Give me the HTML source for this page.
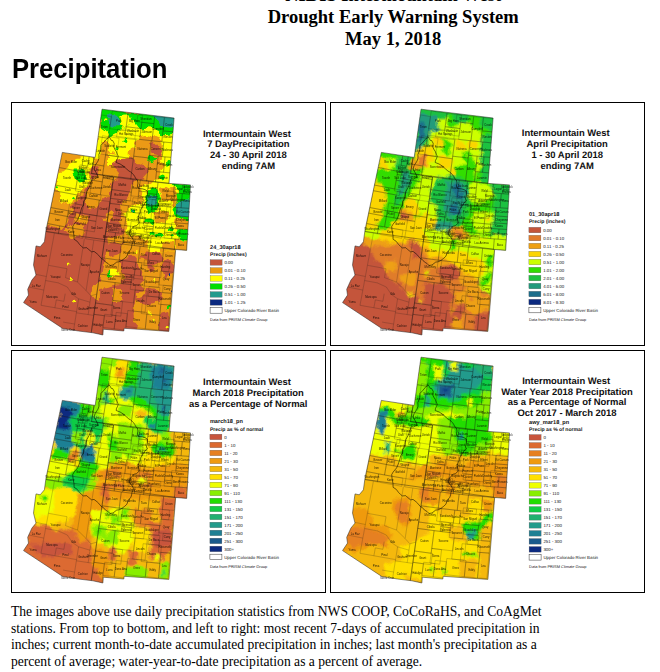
<!DOCTYPE html>
<html><head><meta charset="utf-8"><title>Precipitation</title>
<style>
html,body{margin:0;padding:0;background:#fff;}
body{width:660px;height:672px;position:relative;overflow:hidden;font-family:"Liberation Serif",serif;color:#000;}
.hd{position:absolute;left:0;width:660px;text-align:center;font:bold 18.55px "Liberation Serif",serif;white-space:nowrap;line-height:21.9px;}
.hd span{display:block;position:absolute;left:193.2px;width:400px;text-align:center;}
h1{position:absolute;left:11.8px;top:52.2px;margin:0;font:bold 28.5px "Liberation Sans",sans-serif;line-height:32px;transform-origin:0 0;transform:scaleX(0.9);white-space:nowrap;letter-spacing:0px;}
.cap{position:absolute;left:10.9px;top:604.4px;font:13.61px "Liberation Serif",serif;line-height:16.53px;white-space:nowrap;}
.map{position:absolute;overflow:visible;}
.m polygon{stroke-width:2.4px;stroke-linejoin:round}
.tt{font:bold 9.45px "Liberation Sans",sans-serif;fill:#111;}
.lt{font:bold 5.1px "Liberation Sans",sans-serif;fill:#111;}
.map text{text-rendering:geometricPrecision}
.ll{font:4.4px "Liberation Sans",sans-serif;fill:#111;}
.ld{font:3.95px "Liberation Sans",sans-serif;fill:#111;}
.cl{font:2.8px "Liberation Sans",sans-serif;fill:#000;opacity:0.85}
</style></head><body>
<div class="hd"><span style="top:-15.6px">NIDIS Intermountain West</span><span style="top:6.3px">Drought Early Warning System</span><span style="top:28.2px">May 1, 2018</span></div>
<h1>Precipitation</h1>
<svg width="0" height="0" style="position:absolute"><defs><g id="L"><path d="M98.1 26.1 L114.1 28.5 L116.5 10.8 L100.8 8.5ZM86.0 34.1 L96.7 35.8 L100.0 14.1 L89.5 12.4ZM114.7 24.2 L129.5 26.1 L131.1 12.7 L116.5 10.8ZM125.5 19.2 L142.4 21.2 L143.2 14.1 L126.4 12.1ZM140.5 38.3 L150.3 39.3 L152.9 15.1 L143.2 14.1ZM151.5 28.4 L162.4 29.4 L163.7 16.1 L152.9 15.1ZM150.3 39.3 L161.4 40.4 L162.4 29.4 L151.5 28.4ZM128.1 36.9 L140.5 38.3 L142.4 21.2 L130.3 19.8ZM113.6 31.7 L128.5 33.7 L129.5 26.1 L114.7 24.2ZM105.0 34.6 L123.2 37.1 L124.3 29.0 L106.2 26.6ZM94.1 52.4 L121.9 56.3 L124.4 36.4 L97.2 32.6ZM88.2 51.4 L105.0 54.0 L107.6 35.8 L91.0 33.2ZM81.5 61.7 L92.4 63.5 L96.7 35.8 L86.0 34.1ZM80.0 71.0 L91.0 72.8 L92.4 63.5 L81.5 61.7ZM91.0 72.8 L119.2 76.8 L121.9 56.3 L94.1 52.4ZM119.2 76.8 L135.1 78.7 L137.7 55.5 L122.2 53.7ZM122.2 53.7 L137.7 55.5 L139.7 38.2 L124.4 36.4ZM138.1 52.8 L150.8 54.1 L152.3 39.5 L139.7 38.2ZM150.8 54.1 L160.0 54.9 L161.4 40.4 L152.3 39.5ZM135.1 78.7 L143.9 79.6 L146.6 53.7 L138.1 52.8ZM145.0 69.1 L152.0 69.8 L153.5 54.4 L146.6 53.7ZM152.0 69.8 L158.6 70.4 L160.0 54.9 L153.5 54.4ZM143.9 79.6 L157.6 80.9 L158.6 70.4 L145.0 69.1ZM47.0 64.9 L69.5 69.2 L72.3 53.1 L50.1 48.9ZM70.6 62.8 L76.1 63.7 L77.7 54.1 L72.3 53.1ZM75.5 67.0 L80.5 67.8 L82.6 54.9 L77.7 54.1ZM67.7 66.4 L74.3 67.6 L75.0 63.6 L68.4 62.4ZM70.7 71.9 L75.7 72.8 L76.5 68.0 L71.6 67.1ZM66.7 72.0 L71.1 72.8 L72.1 67.2 L67.7 66.4ZM72.8 76.4 L90.8 79.4 L91.8 72.9 L73.9 70.0ZM91.4 75.4 L101.7 76.9 L102.1 74.5 L91.8 72.9ZM43.6 82.5 L64.2 86.5 L67.3 68.8 L47.0 64.9ZM65.7 77.7 L72.4 78.8 L73.4 73.2 L66.7 72.0ZM71.7 82.9 L79.5 84.2 L80.6 77.7 L72.8 76.4ZM78.5 90.6 L88.8 92.3 L90.8 79.4 L80.6 77.7ZM88.8 92.3 L99.3 93.9 L101.7 76.9 L91.4 75.4ZM63.9 88.4 L75.1 90.4 L76.8 79.6 L65.7 77.7ZM42.5 88.1 L68.8 93.1 L69.8 87.5 L43.6 82.5ZM74.3 95.4 L88.9 97.8 L89.7 92.4 L75.1 90.1ZM64.5 101.5 L72.4 102.9 L74.5 90.3 L66.7 88.9ZM39.2 105.0 L62.6 109.4 L65.5 92.5 L42.5 88.1ZM70.5 110.8 L85.4 113.3 L87.8 97.6 L73.1 95.2ZM85.4 113.3 L96.3 114.9 L98.5 99.2 L87.8 97.6ZM56.9 108.4 L70.5 110.8 L71.9 102.8 L58.3 100.4ZM38.2 110.6 L55.9 114.0 L56.9 108.4 L39.2 105.0ZM55.9 114.0 L63.3 115.4 L64.3 109.7 L56.9 108.4ZM63.3 115.4 L84.5 118.9 L85.4 113.3 L64.3 109.7ZM36.1 121.0 L54.0 124.5 L55.9 114.0 L38.2 110.6ZM54.0 124.5 L82.9 129.4 L84.5 118.9 L55.9 114.0ZM34.6 129.0 L46.8 131.4 L48.2 123.4 L36.1 121.0ZM46.8 131.4 L71.2 135.8 L72.5 127.7 L48.2 123.4ZM74.1 136.3 L92.8 139.1 L96.3 114.9 L78.0 112.1ZM100.3 87.1 L119.9 89.7 L121.5 77.1 L102.1 74.5ZM119.4 93.3 L126.7 94.2 L128.7 78.0 L121.5 77.1ZM127.4 88.5 L135.8 89.4 L137.0 78.9 L128.7 78.0ZM135.7 90.9 L145.2 91.9 L146.5 79.9 L137.0 78.9ZM144.8 96.1 L161.5 97.6 L162.9 81.4 L146.5 79.9ZM162.1 90.5 L172.5 91.2 L173.2 82.1 L162.9 81.4ZM172.8 87.0 L179.5 87.5 L179.9 82.6 L173.2 82.1ZM172.5 91.2 L179.2 91.7 L179.5 87.5 L172.8 87.0ZM154.9 97.1 L162.6 97.7 L163.4 89.2 L155.7 88.6ZM162.0 104.7 L169.6 105.3 L170.8 91.1 L163.3 90.5ZM169.6 105.3 L178.2 105.9 L179.2 91.7 L170.8 91.1ZM99.0 95.8 L118.8 98.5 L119.9 89.7 L100.3 87.1ZM98.3 100.8 L121.5 103.9 L122.2 98.9 L99.0 95.8ZM126.2 99.0 L134.6 100.0 L135.8 89.4 L127.4 88.5ZM120.4 103.8 L130.6 105.0 L131.6 96.4 L121.5 95.2ZM137.3 96.7 L144.6 97.4 L145.2 91.9 L137.9 91.1ZM144.3 100.3 L159.6 101.7 L160.0 97.5 L144.8 96.1ZM144.0 103.1 L159.4 104.5 L159.6 101.7 L144.3 100.3ZM139.3 109.8 L143.3 110.2 L144.6 97.4 L140.7 97.0ZM130.6 105.0 L135.2 105.5 L135.8 100.1 L131.2 99.6ZM96.7 112.1 L115.6 114.7 L117.0 103.3 L98.3 100.8ZM116.2 109.3 L127.7 110.7 L128.4 104.7 L117.0 103.3ZM129.4 115.8 L139.4 116.9 L140.9 102.8 L131.0 101.7ZM140.5 109.9 L147.8 110.7 L148.5 103.5 L141.2 102.8ZM147.3 114.9 L158.4 115.9 L159.4 104.5 L148.5 103.5ZM153.8 121.2 L164.2 122.1 L165.6 105.0 L155.4 104.1ZM164.9 113.4 L177.5 114.3 L178.2 105.9 L165.6 105.0ZM164.3 120.4 L177.0 121.3 L177.5 114.3 L164.9 113.4ZM142.0 120.1 L153.8 121.2 L154.7 111.3 L143.1 110.2ZM104.3 113.2 L114.4 114.5 L115.1 109.2 L105.1 107.9ZM95.5 120.5 L113.3 123.0 L114.4 114.5 L96.7 112.1ZM113.3 123.0 L127.8 124.7 L129.4 110.9 L115.1 109.2ZM126.5 120.4 L132.3 121.1 L133.5 110.5 L127.7 109.9ZM132.0 123.2 L141.9 124.2 L142.6 117.2 L132.8 116.2ZM141.2 130.2 L152.9 131.3 L153.8 121.2 L142.3 120.1ZM153.0 129.7 L159.4 130.2 L160.2 121.7 L153.8 121.2ZM159.8 125.8 L176.6 127.0 L177.0 121.3 L160.3 120.1ZM152.5 135.5 L160.1 136.2 L160.6 130.3 L153.0 129.7ZM160.1 136.2 L167.6 136.7 L168.5 126.5 L161.0 125.9ZM167.6 136.7 L175.8 137.3 L176.6 127.0 L168.5 126.5ZM94.9 124.6 L109.9 126.7 L110.4 122.6 L95.5 120.5ZM94.3 128.8 L107.0 130.6 L107.6 126.3 L94.9 124.6ZM92.8 139.1 L102.7 140.5 L104.1 130.2 L94.3 128.8ZM102.7 140.5 L111.2 141.6 L112.5 131.3 L104.1 130.2ZM111.2 135.0 L117.6 135.8 L119.1 123.7 L112.8 122.9ZM111.2 141.6 L122.9 143.0 L123.7 136.6 L112.0 135.2ZM116.4 135.7 L121.1 136.3 L122.1 128.2 L117.4 127.6ZM118.3 130.2 L134.6 132.0 L135.8 120.6 L119.7 118.8ZM121.1 136.3 L128.8 137.1 L129.5 131.5 L121.8 130.6ZM122.7 143.0 L132.1 144.1 L132.8 137.6 L123.4 136.5ZM128.7 137.9 L135.6 138.7 L136.3 132.2 L129.5 131.5ZM132.1 144.1 L138.5 144.7 L139.6 135.0 L133.1 134.3ZM132.5 129.3 L141.2 130.2 L141.9 124.2 L133.2 123.3ZM135.4 135.4 L148.8 136.7 L149.4 131.0 L136.0 129.7ZM138.5 144.7 L162.9 146.9 L163.8 136.4 L139.6 134.3ZM162.9 146.9 L175.1 147.7 L175.8 137.3 L163.8 136.4ZM90.5 155.3 L107.7 157.7 L109.8 141.5 L92.8 139.1ZM88.2 171.5 L109.2 174.3 L111.3 158.1 L90.5 155.3ZM87.2 177.9 L112.0 181.2 L112.8 174.7 L88.2 171.5ZM84.0 200.5 L100.6 202.8 L103.6 180.2 L87.2 177.9ZM82.4 211.8 L100.4 214.2 L101.9 202.9 L84.0 200.5ZM79.7 230.6 L90.4 232.1 L92.9 213.3 L82.4 211.8ZM91.4 224.9 L102.7 226.3 L104.3 213.1 L93.2 211.7ZM102.7 226.3 L114.0 227.7 L115.9 211.2 L104.7 209.9ZM114.4 224.1 L133.8 226.2 L135.5 210.0 L116.3 208.0ZM133.8 226.2 L147.0 227.4 L148.3 212.8 L135.3 211.6ZM147.0 227.4 L156.4 228.1 L158.6 202.6 L149.3 201.9ZM129.7 211.0 L148.3 212.8 L150.0 194.9 L131.6 193.2ZM146.9 201.7 L158.6 202.6 L159.6 190.8 L148.0 189.9ZM151.0 190.1 L159.6 190.8 L160.2 183.5 L151.7 182.8ZM136.5 193.7 L147.5 194.7 L148.4 185.0 L137.5 184.0ZM147.4 182.4 L160.3 183.5 L161.5 169.7 L148.8 168.6ZM132.6 183.5 L147.2 184.9 L148.1 175.1 L133.7 173.8ZM128.9 173.3 L149.3 175.2 L150.4 164.4 L130.1 162.4ZM150.0 168.7 L157.2 169.3 L158.0 159.6 L150.9 159.0ZM150.9 159.0 L162.8 159.9 L163.9 146.9 L152.1 146.0ZM136.6 157.7 L150.9 159.0 L152.1 146.0 L138.0 144.7ZM132.4 162.7 L145.6 163.9 L146.1 158.6 L133.0 157.3ZM126.7 159.9 L136.2 160.9 L138.0 144.7 L128.6 143.7ZM107.7 157.7 L126.7 159.9 L128.6 143.7 L109.8 141.5ZM106.0 170.6 L122.8 172.6 L124.3 159.6 L107.7 157.7ZM122.8 172.6 L128.9 173.3 L130.3 160.3 L124.3 159.6ZM110.2 176.1 L122.3 177.5 L122.8 172.6 L110.8 171.2ZM109.6 180.9 L119.3 182.1 L119.9 177.2 L110.2 176.1ZM118.7 186.9 L132.1 188.4 L133.3 177.0 L120.1 175.6ZM101.3 197.9 L122.1 200.4 L124.2 182.6 L103.6 180.2ZM121.2 208.5 L133.6 209.8 L135.8 188.7 L123.6 187.5ZM99.4 212.5 L109.3 213.7 L111.1 199.2 L101.3 197.9ZM42.9 130.7 L29.5 202.8M37.0 162.8 L55.5 166.2 L54.0 175.1 L66.0 179.6M72.9 136.1 L66.0 179.6 L74.1 187.5 L79.4 193.3M82.3 137.6 L74.7 187.6M22.0 171.4 L34.9 174.0M15.7 184.2 L32.4 187.6M34.1 178.0 L46.8 180.4 L55.8 184.5 L60.9 192.0 L67.1 196.3 L78.5 199.7M29.5 202.8 L65.1 209.1M43.4 205.4 L44.8 197.4 L52.4 198.8 L53.7 191.2M62.1 227.9 L67.1 196.3M64.9 210.3 L82.2 212.9M76.7 212.1 L79.4 193.3 L85.3 191.6M51.6 219.6 L63.1 221.5" fill="none" stroke="#1a1a1a" stroke-width="0.35" stroke-opacity="0.6"/><path d="M82.6 54.9 L80.0 71.0 L157.6 80.9M102.1 74.5 L79.7 230.6M34.6 129.0 L163.9 146.9" fill="none" stroke="#111" stroke-width="0.5" stroke-opacity="0.8"/><path d="M62.6 136.8 L62.5 133.2 L61.6 128.5 L61.2 124.1 L62.6 121.6 L66.1 117.4 L67.7 113.7 L69.1 109.5 L70.2 105.3 L71.9 102.8 L72.1 98.9 L74.5 95.8 L74.9 91.7 L75.3 89.1 L77.3 85.5 L78.7 82.4 L78.9 80.3 L79.6 79.2 L80.8 76.1 L82.9 76.6 L85.6 75.0 L86.6 75.4 L85.6 72.0 L84.4 69.7 L82.4 66.5 L83.8 62.7 L86.5 58.6 L87.5 55.7 L87.4 51.9 L89.3 47.4 L89.5 42.9 L92.5 39.7 L94.6 37.2 L97.4 34.3 L98.7 35.8 L99.8 37.9 L101.2 38.1 L102.7 40.9 L102.3 44.5 L103.3 46.7 L104.8 49.0 L106.0 52.1 L106.7 53.7 L106.1 55.9 L105.0 57.8 L104.7 60.0 L108.6 61.5 L112.2 63.8 L115.0 66.4 L117.4 68.5 L119.1 69.4 L122.1 72.2 L123.3 74.1 L124.3 76.2 L125.9 77.6 L126.5 80.5 L125.9 83.7 L127.1 86.0 L130.7 86.3 L133.5 87.1 L135.9 88.6 L136.1 92.9 L135.0 96.2 L136.0 98.5 L133.6 100.1 L132.1 103.4 L130.7 104.5 L129.0 107.6 L128.9 109.9 L127.5 112.3 L126.7 115.2 L127.4 118.5 L127.7 120.6 L125.0 123.1 L122.8 123.7 L120.0 126.3 L118.8 127.8 L118.2 130.0 L118.0 132.6 L119.0 133.3 L121.2 136.2 L122.1 138.0 L121.3 139.9 L120.5 141.9 L120.1 144.4 L119.4 146.7 L116.8 149.7 L115.4 153.7 L113.2 155.8 L109.6 158.5 L107.5 159.3 L105.2 159.6 L101.5 162.5 L98.5 163.0 L96.7 161.1 L93.9 159.5 L92.0 157.2 L89.7 155.9 L87.2 152.8 L85.6 151.3 L82.5 148.9 L80.2 149.4 L76.7 146.6 L75.3 145.2 L71.8 145.4 L69.9 143.8 L68.1 142.0 L65.7 138.8 L62.6 136.8Z" fill="none" stroke="#000" stroke-width="0.6" stroke-opacity="0.9" stroke-linejoin="round"/></g><g id="LB"><g class="cl"><text x="107.4" y="19.5" text-anchor="middle">Park</text><text x="93.0" y="25.1" text-anchor="middle">Teton</text><text x="122.9" y="19.5" text-anchor="middle">Big Horn</text><text x="134.4" y="17.7" text-anchor="middle">Sheridan</text><text x="146.7" y="27.7" text-anchor="middle">Campbell</text><text x="157.6" y="23.3" text-anchor="middle">Crook</text><text x="156.4" y="35.4" text-anchor="middle">Weston</text><text x="135.3" y="30.1" text-anchor="middle">Johnson</text><text x="121.6" y="29.9" text-anchor="middle">Washakie</text><text x="114.7" y="32.9" text-anchor="middle">Hot Springs</text><text x="109.4" y="45.5" text-anchor="middle">Fremont</text><text x="97.9" y="44.6" text-anchor="middle">Sublette</text><text x="89.1" y="49.8" text-anchor="middle">Lincoln</text><text x="86.2" y="68.3" text-anchor="middle">Uinta</text><text x="106.5" y="65.7" text-anchor="middle">Sweetwater</text><text x="128.6" y="67.2" text-anchor="middle">Carbon</text><text x="131.0" y="47.0" text-anchor="middle">Natrona</text><text x="145.2" y="47.2" text-anchor="middle">Converse</text><text x="156.1" y="48.2" text-anchor="middle">Niobrara</text><text x="140.9" y="67.2" text-anchor="middle">Albany</text><text x="149.3" y="62.7" text-anchor="middle">Platte</text><text x="156.0" y="63.4" text-anchor="middle">Goshen</text><text x="151.3" y="76.0" text-anchor="middle">Laramie</text><text x="59.7" y="60.1" text-anchor="middle">Box Elder</text><text x="74.2" y="59.4" text-anchor="middle">Cache</text><text x="79.1" y="62.0" text-anchor="middle">Rich</text><text x="71.4" y="66.0" text-anchor="middle">Weber</text><text x="73.6" y="70.9" text-anchor="middle">Morgan</text><text x="69.4" y="70.6" text-anchor="middle">Davis</text><text x="82.3" y="75.7" text-anchor="middle">Summit</text><text x="96.7" y="75.9" text-anchor="middle">Daggett</text><text x="55.5" y="76.7" text-anchor="middle">Tooele</text><text x="69.6" y="76.4" text-anchor="middle">Salt Lake</text><text x="76.2" y="81.3" text-anchor="middle">Wasatch</text><text x="84.7" y="86.0" text-anchor="middle">Duchesne</text><text x="95.3" y="85.6" text-anchor="middle">Uintah</text><text x="70.4" y="85.0" text-anchor="middle">Utah</text><text x="56.2" y="88.9" text-anchor="middle">Juab</text><text x="82.0" y="94.9" text-anchor="middle">Carbon</text><text x="69.5" y="96.9" text-anchor="middle">Sanpete</text><text x="52.4" y="99.8" text-anchor="middle">Millard</text><text x="79.2" y="105.2" text-anchor="middle">Emery</text><text x="92.0" y="107.2" text-anchor="middle">Grand</text><text x="64.4" y="106.6" text-anchor="middle">Sevier</text><text x="47.5" y="110.5" text-anchor="middle">Beaver</text><text x="60.1" y="112.9" text-anchor="middle">Piute</text><text x="74.4" y="115.4" text-anchor="middle">Wayne</text><text x="46.0" y="118.6" text-anchor="middle">Iron</text><text x="69.3" y="122.8" text-anchor="middle">Garfield</text><text x="41.4" y="127.2" text-anchor="middle">Washington</text><text x="59.7" y="130.7" text-anchor="middle">Kane</text><text x="85.3" y="126.6" text-anchor="middle">San Juan</text><text x="110.9" y="83.1" text-anchor="middle">Moffat</text><text x="124.1" y="86.6" text-anchor="middle">Routt</text><text x="132.2" y="84.7" text-anchor="middle">Jackson</text><text x="141.1" y="86.4" text-anchor="middle">Larimer</text><text x="153.9" y="89.8" text-anchor="middle">Weld</text><text x="167.7" y="87.3" text-anchor="middle">Logan</text><text x="176.4" y="85.8" text-anchor="middle">Sedgwick</text><text x="176.0" y="90.4" text-anchor="middle">Phillips</text><text x="159.2" y="94.2" text-anchor="middle">Morgan</text><text x="166.4" y="98.9" text-anchor="middle">Washington</text><text x="174.5" y="99.5" text-anchor="middle">Yuma</text><text x="109.5" y="93.8" text-anchor="middle">Rio Blanco</text><text x="110.2" y="100.9" text-anchor="middle">Garfield</text><text x="131.0" y="95.2" text-anchor="middle">Grand</text><text x="126.0" y="101.1" text-anchor="middle">Eagle</text><text x="141.3" y="95.3" text-anchor="middle">Boulder</text><text x="152.2" y="99.9" text-anchor="middle">Adams</text><text x="151.9" y="103.4" text-anchor="middle">Arapahoe</text><text x="142.0" y="104.6" text-anchor="middle">Jefferson</text><text x="133.2" y="103.5" text-anchor="middle">Summit</text><text x="106.9" y="108.8" text-anchor="middle">Mesa</text><text x="122.3" y="108.0" text-anchor="middle">Pitkin</text><text x="135.2" y="110.3" text-anchor="middle">Park</text><text x="144.5" y="107.7" text-anchor="middle">Douglas</text><text x="153.4" y="110.7" text-anchor="middle">Elbert</text><text x="159.8" y="114.1" text-anchor="middle">Lincoln</text><text x="171.6" y="110.7" text-anchor="middle">Kit Carson</text><text x="171.0" y="118.4" text-anchor="middle">Cheyenne</text><text x="148.4" y="116.7" text-anchor="middle">El Paso</text><text x="109.7" y="112.2" text-anchor="middle">Delta</text><text x="105.0" y="118.6" text-anchor="middle">Montrose</text><text x="121.4" y="118.0" text-anchor="middle">Gunnison</text><text x="130.0" y="116.5" text-anchor="middle">Chaffee</text><text x="137.3" y="121.2" text-anchor="middle">Fremont</text><text x="147.5" y="126.7" text-anchor="middle">Pueblo</text><text x="156.6" y="126.7" text-anchor="middle">Crowley</text><text x="168.4" y="124.6" text-anchor="middle">Kiowa</text><text x="156.5" y="133.9" text-anchor="middle">Otero</text><text x="164.3" y="132.3" text-anchor="middle">Bent</text><text x="172.1" y="132.9" text-anchor="middle">Prowers</text><text x="102.7" y="124.6" text-anchor="middle">San Miguel</text><text x="101.0" y="128.6" text-anchor="middle">Dolores</text><text x="98.5" y="135.7" text-anchor="middle">Montezuma</text><text x="107.6" y="136.9" text-anchor="middle">La Plata</text><text x="115.2" y="130.4" text-anchor="middle">Hinsdale</text><text x="117.4" y="140.1" text-anchor="middle">Archuleta</text><text x="119.3" y="132.9" text-anchor="middle">Mineral</text><text x="127.1" y="126.4" text-anchor="middle">Saguache</text><text x="125.3" y="134.9" text-anchor="middle">Rio Grande</text><text x="127.7" y="141.3" text-anchor="middle">Conejos</text><text x="132.5" y="136.1" text-anchor="middle">Alamosa</text><text x="135.8" y="140.5" text-anchor="middle">Costilla</text><text x="137.2" y="127.8" text-anchor="middle">Custer</text><text x="142.4" y="134.2" text-anchor="middle">Huerfano</text><text x="151.2" y="141.7" text-anchor="middle">Las Animas</text><text x="169.4" y="143.1" text-anchor="middle">Baca</text><text x="100.2" y="149.4" text-anchor="middle">San Juan</text><text x="99.8" y="165.8" text-anchor="middle">McKinley</text><text x="100.1" y="177.4" text-anchor="middle">Cibola</text><text x="93.9" y="191.4" text-anchor="middle">Catron</text><text x="92.2" y="208.4" text-anchor="middle">Grant</text><text x="86.4" y="223.0" text-anchor="middle">Hidalgo</text><text x="97.9" y="220.0" text-anchor="middle">Luna</text><text x="109.3" y="219.8" text-anchor="middle">Dona Ana</text><text x="125.0" y="218.1" text-anchor="middle">Otero</text><text x="141.1" y="220.5" text-anchor="middle">Eddy</text><text x="152.8" y="216.0" text-anchor="middle">Lea</text><text x="139.9" y="204.0" text-anchor="middle">Chaves</text><text x="153.2" y="197.3" text-anchor="middle">Roosevelt</text><text x="155.6" y="187.8" text-anchor="middle">Curry</text><text x="142.5" y="190.4" text-anchor="middle">De Baca</text><text x="154.5" y="177.1" text-anchor="middle">Quay</text><text x="140.4" y="180.3" text-anchor="middle">Guadalupe</text><text x="139.7" y="169.9" text-anchor="middle">San Miguel</text><text x="154.0" y="165.2" text-anchor="middle">Harding</text><text x="157.4" y="154.0" text-anchor="middle">Union</text><text x="144.4" y="152.8" text-anchor="middle">Colfax</text><text x="139.3" y="161.6" text-anchor="middle">Mora</text><text x="132.4" y="153.3" text-anchor="middle">Taos</text><text x="118.2" y="151.7" text-anchor="middle">Rio Arriba</text><text x="115.2" y="166.2" text-anchor="middle">Sandoval</text><text x="126.6" y="167.5" text-anchor="middle">Santa Fe</text><text x="116.5" y="175.4" text-anchor="middle">Bernalillo</text><text x="114.8" y="180.1" text-anchor="middle">Valencia</text><text x="126.1" y="183.0" text-anchor="middle">Torrance</text><text x="112.8" y="191.3" text-anchor="middle">Socorro</text><text x="128.6" y="199.7" text-anchor="middle">Lincoln</text><text x="105.2" y="206.8" text-anchor="middle">Sierra</text><text x="30.5" y="154.2" text-anchor="middle">Mohave</text><text x="55.1" y="153.9" text-anchor="middle">Coconino</text><text x="73.6" y="163.6" text-anchor="middle">Navajo</text><text x="83.0" y="170.1" text-anchor="middle">Apache</text><text x="44.0" y="175.1" text-anchor="middle">Yavapai</text><text x="24.7" y="184.6" text-anchor="middle">La Paz</text><text x="40.4" y="195.1" text-anchor="middle">Maricopa</text><text x="62.2" y="192.4" text-anchor="middle">Gila</text><text x="21.6" y="200.6" text-anchor="middle">Yuma</text><text x="53.9" y="205.0" text-anchor="middle">Pinal</text><text x="45.5" y="216.7" text-anchor="middle">Pima</text><text x="71.7" y="207.9" text-anchor="middle">Graham</text><text x="80.9" y="206.0" text-anchor="middle">Greenlee</text><text x="71.2" y="224.3" text-anchor="middle">Cochise</text><text x="56.4" y="228.5" text-anchor="middle">Santa Cruz</text></g></g></defs></svg>
<svg class="map" style="left:11px;top:102px" width="316" height="245" viewBox="-0.5 -0.5 316 245">
<defs><clipPath id="c0"><polygon points="90.5,6.7 162.6,15.5 157.5,80.9 179.0,82.4 175.2,147.9 164.2,147.0 157.4,228.9 112.7,225.8 112.3,228.5 91.8,226.7 91.4,232.5 81.4,230.3 66.9,228.5 51.2,225.9 12.0,200.1 17.0,192.6 16.2,186.8 20.4,177.6 24.5,172.6 22.0,162.6 23.7,149.3 24.5,143.4 28.7,144.3 32.9,139.3 34.5,127.6 50.8,49.9 83.7,54.9"/></clipPath>
<filter id="b0" x="-5%" y="-5%" width="110%" height="110%"><feTurbulence type="fractalNoise" baseFrequency="0.13" numOctaves="3" seed="3" result="n"/><feGaussianBlur in="SourceGraphic" stdDeviation="0.6" result="g"/><feDisplacementMap in="g" in2="n" scale="7" xChannelSelector="R" yChannelSelector="G"/></filter></defs>
<g clip-path="url(#c0)"><g class="m" filter="url(#b0)"><rect width="320" height="250" fill="#eb9a12"/><polygon fill="#ffff00" stroke="#ffff00" points="89.0,23.4 108.7,34.0 108.7,49.1 102.6,47.6 98.1,40.0 92.0,37.0 89.0,43.1 86.0,55.2 83.7,54.9 86.7,35.5"/><polygon fill="#00dd00" stroke="#00dd00" points="90.5,6.7 108.7,9.0 108.7,34.0 101.1,35.5 97.3,30.2 93.5,26.4 89.8,24.1 89.0,15.8"/><polygon fill="#239b8c" stroke="#239b8c" points="99.6,12.8 105.7,14.3 108.7,18.8 108.7,23.4 104.2,26.4 101.1,21.8 98.1,17.3"/><ellipse fill="#ffff00" cx="94.3" cy="17.3" rx="1.5" ry="1.5"/><polygon fill="#ffff00" stroke="#ffff00" points="58.7,61.2 69.3,55.2 79.9,54.4 82.9,58.2 79.9,64.3 69.3,65.8 63.2,70.3 60.2,77.6 46.6,77.6 54.2,68.8"/><polygon fill="#c4553a" stroke="#c4553a" points="93.5,65.8 108.7,62.8 108.7,77.6 93.5,77.6"/><polygon fill="#c4553a" stroke="#c4553a" points="79.9,65.8 87.5,65.8 87.5,77.6 79.9,77.6"/><ellipse fill="#00dd00" cx="70.1" cy="74.9" rx="2.4" ry="2.7"/><polygon fill="#ffff00" stroke="#ffff00" points="98.7,32.4 107.8,26.4 113.9,25.6 118.4,20.3 122.9,18.1 127.5,24.1 131.3,27.9 136.6,24.1 142.6,25.6 148.7,27.1 151.7,33.2 150.2,35.5 142.6,32.4 135.1,30.2 129.0,31.7 122.9,38.5 119.9,47.6 113.9,53.7 107.8,55.2 103.2,49.1 98.7,47.6"/><polygon fill="#00dd00" stroke="#00dd00" points="98.7,8.2 162.6,15.5 162.0,27.9 157.8,34.0 151.7,32.4 148.7,26.4 142.6,24.9 136.6,23.4 131.3,27.1 127.5,23.4 122.9,17.3 118.4,18.8 113.9,24.9 110.8,20.3 107.8,26.4 104.8,29.4 98.7,32.4"/><polygon fill="#ffff00" stroke="#ffff00" points="110.1,12.8 116.9,12.0 118.4,18.8 113.9,24.9 110.8,20.3"/><polygon fill="#239b8c" stroke="#239b8c" points="142.6,12.8 162.3,15.5 162.2,20.3 160.8,24.1 150.2,23.4 147.2,18.8"/><polygon fill="#239b8c" stroke="#239b8c" points="98.7,12.8 104.8,14.3 107.8,20.3 103.2,24.9 98.7,23.4"/><ellipse fill="#00dd00" cx="113.9" cy="37.8" rx="1.8" ry="1.8"/><ellipse fill="#00dd00" cx="105.5" cy="46.1" rx="1.5" ry="1.5"/><polygon fill="#c4553a" stroke="#c4553a" points="138.9,41.5 145.7,41.5 149.5,47.6 147.2,51.4 141.9,49.9"/><polygon fill="#00dd00" stroke="#00dd00" points="138.1,53.7 143.4,58.2 141.9,60.5 137.3,56.7"/><polygon fill="#ffff00" stroke="#ffff00" points="151.7,34.0 161.6,32.4 159.3,76.4 148.7,77.6 151.0,68.8 154.8,62.8 148.7,58.2 151.0,52.1 152.5,43.1"/><ellipse fill="#00dd00" cx="157.0" cy="61.2" rx="2.3" ry="3.0"/><polygon fill="#ffff00" stroke="#ffff00" points="98.7,52.1 107.8,54.4 112.3,58.2 107.8,62.8 98.7,64.3"/><polygon fill="#c4553a" stroke="#c4553a" points="98.7,64.3 107.8,58.2 119.9,55.2 124.5,61.2 133.5,64.3 135.1,70.3 129.0,77.6 98.7,77.6"/><polygon fill="#ffff00" stroke="#ffff00" points="48.1,70.6 61.7,67.6 75.4,67.6 79.9,76.7 73.9,82.8 66.3,87.3 64.8,94.9 58.7,99.4 49.6,97.9 51.1,90.3 45.1,87.3"/><polygon fill="#00dd00" stroke="#00dd00" points="63.2,69.1 70.8,69.1 73.1,76.7 69.3,79.7 65.5,75.2"/><ellipse fill="#00dd00" cx="62.5" cy="96.1" rx="1.7" ry="1.7"/><ellipse fill="#00dd00" cx="45.1" cy="85.0" rx="1.2" ry="1.2"/><polygon fill="#c4553a" stroke="#c4553a" points="75.4,87.3 81.4,82.8 89.0,87.3 93.5,81.2 99.6,76.7 108.7,75.2 108.7,147.6 23.9,147.6 31.4,143.4 36.7,123.7 51.1,128.2 57.2,122.1 58.7,113.1 66.3,107.0 58.7,104.0 64.8,100.9 72.3,94.9"/><polygon fill="#eb9a12" stroke="#eb9a12" points="75.4,90.3 87.5,87.3 90.5,94.9 84.5,104.0 78.4,105.5 73.9,102.4 75.4,96.4"/><polygon fill="#eb9a12" stroke="#eb9a12" points="64.8,113.1 75.4,113.1 75.4,119.1 69.3,120.6 63.2,119.1"/><ellipse fill="#ffff00" cx="68.1" cy="115.8" rx="1.4" ry="1.4"/><polygon fill="#eb9a12" stroke="#eb9a12" points="58.7,123.7 72.3,123.7 75.4,129.7 69.3,132.8 58.7,131.2"/><polygon fill="#eb9a12" stroke="#eb9a12" points="93.5,111.5 99.6,110.0 101.1,117.6 95.1,119.1"/><polygon fill="#eb9a12" stroke="#eb9a12" points="99.6,119.1 108.7,117.6 108.7,140.3 99.6,138.8 98.1,128.2"/><polygon fill="#c4553a" stroke="#c4553a" points="98.7,67.6 119.9,67.6 124.5,76.7 118.4,84.3 113.9,97.9 107.8,102.4 98.7,104.0"/><polygon fill="#c4553a" stroke="#c4553a" points="98.7,117.6 107.8,119.1 110.8,131.2 103.2,134.3 98.7,132.8"/><polygon fill="#ffff00" stroke="#ffff00" points="129.0,85.8 138.1,82.8 148.7,76.7 157.5,73.7 157.5,80.9 162.3,82.8 165.4,90.3 159.3,97.9 162.3,107.0 174.5,117.6 176.0,147.6 135.1,147.6 129.0,137.3 119.9,134.3 113.9,128.2 118.4,120.6 113.9,113.1 118.4,105.5 129.0,102.4 135.1,97.9"/><polygon fill="#eb9a12" stroke="#eb9a12" points="148.7,87.3 160.8,85.8 163.9,93.4 159.3,97.9 150.2,96.4"/><polygon fill="#eb9a12" stroke="#eb9a12" points="163.9,117.6 176.0,116.1 176.0,126.7 165.4,125.2"/><polygon fill="#eb9a12" stroke="#eb9a12" points="144.2,110.0 156.3,111.5 154.8,119.1 145.7,119.1"/><polygon fill="#eb9a12" stroke="#eb9a12" points="165.4,138.8 176.3,138.8 176.0,147.6 165.4,147.6"/><polygon fill="#eb9a12" stroke="#eb9a12" points="116.9,134.3 135.1,138.8 135.1,147.6 113.9,147.6"/><polygon fill="#eb9a12" stroke="#eb9a12" points="148.7,140.3 162.3,140.3 162.3,147.6 148.7,147.6"/><polygon fill="#00dd00" stroke="#00dd00" points="138.1,85.8 144.2,87.3 147.2,94.9 144.2,107.0 136.6,108.5 135.1,100.9 136.6,93.4"/><polygon fill="#239b8c" stroke="#239b8c" points="137.3,94.9 143.4,94.9 144.2,100.9 139.6,104.0 136.6,100.9"/><ellipse fill="#00dd00" cx="121.4" cy="109.3" rx="3.0" ry="2.3"/><ellipse fill="#239b8c" cx="120.7" cy="109.3" rx="1.5" ry="1.2"/><ellipse fill="#00dd00" cx="138.1" cy="118.4" rx="4.5" ry="2.3"/><ellipse fill="#00dd00" cx="141.1" cy="131.2" rx="3.0" ry="3.0"/><ellipse fill="#00dd00" cx="147.2" cy="133.5" rx="3.0" ry="2.3"/><ellipse fill="#00dd00" cx="159.3" cy="125.5" rx="3.0" ry="1.8"/><ellipse fill="#00dd00" cx="160.1" cy="134.3" rx="2.3" ry="1.5"/><polygon fill="#00dd00" stroke="#00dd00" points="162.3,82.0 179.0,82.8 177.5,117.6 171.4,116.1 165.4,111.5 162.3,107.0 166.9,102.4 165.4,94.9 168.4,88.8"/><polygon fill="#239b8c" stroke="#239b8c" points="166.9,100.9 177.5,97.9 177.5,113.1 169.9,113.1 165.4,108.5"/><polygon fill="#00dd00" stroke="#00dd00" points="166.9,128.2 176.7,126.7 176.3,135.8 169.9,135.8"/><ellipse fill="#00dd00" cx="150.2" cy="74.4" rx="3.0" ry="2.3"/><polygon fill="#c4553a" stroke="#c4553a" points="3.7,127.6 90.4,127.6 93.7,147.6 90.4,167.6 88.7,177.6 80.4,180.9 78.7,190.9 83.7,197.6 90.4,200.9 92.0,234.3 3.7,234.3"/><polygon fill="#eb9a12" stroke="#eb9a12" points="55.4,127.6 73.7,127.6 70.4,132.6 60.4,134.3"/><ellipse fill="#ffff00" cx="56.7" cy="162.6" rx="1.2" ry="1.5"/><ellipse fill="#ffff00" cx="60.4" cy="177.6" rx="1.7" ry="1.0"/><ellipse fill="#ffff00" cx="62.0" cy="197.6" rx="1.7" ry="2.3"/><polygon fill="#00dd00" stroke="#00dd00" points="97.0,168.4 100.4,169.3 101.2,172.3 97.9,171.8"/><polygon fill="#ffff00" stroke="#ffff00" points="99.5,168.4 105.4,168.9 105.7,172.3 101.2,172.3"/><polygon fill="#ffff00" stroke="#ffff00" points="136.6,137.6 150.2,137.6 149.5,143.7 138.1,142.9"/><polygon fill="#c4553a" stroke="#c4553a" points="98.7,142.1 107.8,143.7 106.3,151.2 98.7,152.8"/><polygon fill="#c4553a" stroke="#c4553a" points="135.1,149.7 148.7,151.2 150.2,157.3 142.6,160.3 139.6,167.9 135.1,166.4 136.6,157.3 129.0,155.8"/><polygon fill="#c4553a" stroke="#c4553a" points="151.7,160.3 159.3,158.8 160.8,170.9 154.8,175.5 151.7,167.9"/><polygon fill="#c4553a" stroke="#c4553a" points="110.8,157.3 121.4,154.3 126.0,160.3 129.0,167.9 130.5,177.0 126.0,181.5 132.0,187.6 121.4,189.1 110.8,183.1 109.3,178.5 115.4,175.5 110.8,167.9"/><polygon fill="#c4553a" stroke="#c4553a" points="89.6,187.6 110.8,183.1 121.4,189.1 124.5,195.2 119.9,204.3 122.9,230.0 89.6,230.0"/><polygon fill="#eb9a12" stroke="#eb9a12" points="101.7,187.6 109.3,187.6 109.3,198.2 101.7,198.2"/><polygon fill="#c4553a" stroke="#c4553a" points="136.6,187.6 148.7,189.1 151.7,195.2 142.6,198.2 135.1,201.2 126.0,198.2 133.5,193.7"/><polygon fill="#c4553a" stroke="#c4553a" points="148.7,213.4 157.8,211.8 157.5,230.0 148.7,230.0"/><polygon fill="#c4553a" stroke="#c4553a" points="113.9,216.4 124.5,219.4 122.9,230.0 113.1,230.0"/><ellipse fill="#ffff00" cx="124.5" cy="149.0" rx="1.5" ry="1.5"/><ellipse fill="#ffff00" cx="141.1" cy="178.5" rx="1.5" ry="0.9"/><ellipse fill="#ffff00" cx="138.1" cy="210.3" rx="1.5" ry="1.2"/><ellipse fill="#ffff00" cx="142.6" cy="216.4" rx="1.5" ry="1.2"/><ellipse fill="#ffff00" cx="154.8" cy="224.7" rx="1.5" ry="1.2"/><ellipse fill="#0c2a80" cx="159.8" cy="173.2" rx="0.8" ry="1.8"/><ellipse fill="#0c2a80" cx="159.3" cy="187.6" rx="0.8" ry="1.8"/><ellipse fill="#00dd00" cx="157.0" cy="204.3" rx="1.5" ry="2.1"/><polygon fill="#eb9a12" stroke="#eb9a12" points="83.2,63.1 103.2,64.9 106.9,74.0 99.6,79.4 96.0,92.1 88.7,97.6 81.4,92.1 79.6,83.1 85.1,74.0"/><polygon fill="#c4553a" stroke="#c4553a" points="80.5,64.9 86.0,64.9 85.1,74.0 80.5,75.8"/></g><use href="#L"/></g><use href="#LB"/>
<polygon points="90.5,6.7 162.6,15.5 157.5,80.9 179.0,82.4 175.2,147.9 164.2,147.0 157.4,228.9 112.7,225.8 112.3,228.5 91.8,226.7 91.4,232.5 81.4,230.3 66.9,228.5 51.2,225.9 12.0,200.1 17.0,192.6 16.2,186.8 20.4,177.6 24.5,172.6 22.0,162.6 23.7,149.3 24.5,143.4 28.7,144.3 32.9,139.3 34.5,127.6 50.8,49.9 83.7,54.9" fill="none" stroke="#222" stroke-width="0.5"/>
<text x="235.4" y="34.0" class="tt" text-anchor="middle">Intermountain West</text><text x="236.9" y="44.9" class="tt" text-anchor="middle">7 DayPrecipitation</text><text x="236.9" y="55.8" class="tt" text-anchor="middle">24 - 30 April 2018</text><text x="236.9" y="66.6" class="tt" text-anchor="middle">ending 7AM</text><text x="198.6" y="146.0" class="lt" style="font-size:5.6px">24_30apr18</text><text x="198.6" y="153.9" class="lt">Precip (inches)</text><rect x="198.6" y="157.2" width="12" height="5.5" fill="#c4553a" stroke="#555" stroke-width="0.3"/><text x="212.9" y="161.8" class="ll">0.00</text><rect x="198.6" y="165.2" width="12" height="5.5" fill="#eb9a12" stroke="#555" stroke-width="0.3"/><text x="212.9" y="169.8" class="ll">0.01 - 0.10</text><rect x="198.6" y="173.2" width="12" height="5.5" fill="#ffff00" stroke="#555" stroke-width="0.3"/><text x="212.9" y="177.8" class="ll">0.11 - 0.25</text><rect x="198.6" y="181.2" width="12" height="5.5" fill="#00dd00" stroke="#555" stroke-width="0.3"/><text x="212.9" y="185.8" class="ll">0.26 - 0.50</text><rect x="198.6" y="189.2" width="12" height="5.5" fill="#239b8c" stroke="#555" stroke-width="0.3"/><text x="212.9" y="193.8" class="ll">0.51 - 1.00</text><rect x="198.6" y="197.2" width="12" height="5.5" fill="#0c2a80" stroke="#555" stroke-width="0.3"/><text x="212.9" y="201.8" class="ll">1.01 - 1.25</text><rect x="198.6" y="205.2" width="12" height="5.5" fill="#fff" stroke="#333" stroke-width="0.5"/><text x="212.9" y="209.8" class="ll">Upper Colorado River Basin</text><text x="198.6" y="218.7" class="ld">Data from PRISM Climate Group</text>
<rect x="0" y="0" width="314" height="243" fill="none" stroke="#000" stroke-width="1"/>
</svg><svg class="map" style="left:330px;top:102px" width="316" height="245" viewBox="-0.5 -0.5 316 245">
<defs><clipPath id="c1"><polygon points="90.5,6.7 162.6,15.5 157.5,80.9 179.0,82.4 175.2,147.9 164.2,147.0 157.4,228.9 112.7,225.8 112.3,228.5 91.8,226.7 91.4,232.5 81.4,230.3 66.9,228.5 51.2,225.9 12.0,200.1 17.0,192.6 16.2,186.8 20.4,177.6 24.5,172.6 22.0,162.6 23.7,149.3 24.5,143.4 28.7,144.3 32.9,139.3 34.5,127.6 50.8,49.9 83.7,54.9"/></clipPath>
<filter id="b1" x="-5%" y="-5%" width="110%" height="110%"><feTurbulence type="fractalNoise" baseFrequency="0.13" numOctaves="3" seed="4" result="n"/><feGaussianBlur in="SourceGraphic" stdDeviation="1.3" result="g"/><feDisplacementMap in="g" in2="n" scale="7" xChannelSelector="R" yChannelSelector="G"/></filter></defs>
<g clip-path="url(#c1)"><g class="m" filter="url(#b1)"><rect width="320" height="250" fill="#33dd00"/><polygon fill="#1fc13f" stroke="#1fc13f" points="89.9,6.7 109.6,9.0 109.6,27.9 105.1,27.9 102.0,35.5 94.4,43.1 91.4,46.1 85.4,55.2 84.6,54.9"/><polygon fill="#33dd00" stroke="#33dd00" points="100.5,12.8 109.6,12.8 109.6,26.4 105.1,27.9 100.5,23.4"/><polygon fill="#239b7c" stroke="#239b7c" points="89.9,12.8 97.5,14.3 100.5,23.4 96.0,32.4 91.4,43.1 86.9,47.6 85.4,43.1 88.4,24.9"/><polygon fill="#1c6e8c" stroke="#1c6e8c" points="88.7,20.3 92.6,20.3 92.2,34.0 87.6,37.0"/><polygon fill="#ccff00" stroke="#ccff00" points="105.1,27.9 109.6,26.4 109.6,43.1 105.1,41.5 102.0,35.5"/><polygon fill="#ccff00" stroke="#ccff00" points="94.4,64.3 109.6,59.7 109.6,77.6 91.4,77.6 89.9,68.8"/><polygon fill="#fbd500" stroke="#fbd500" points="91.4,46.1 100.5,43.1 106.6,49.1 109.6,52.1 109.6,59.7 100.5,61.2 94.4,64.3 88.4,58.2 85.4,55.2 88.4,49.1"/><polygon fill="#eea012" stroke="#eea012" points="80.8,58.2 89.9,59.7 91.4,68.8 85.4,73.4 79.3,70.3"/><polygon fill="#e07b2c" stroke="#e07b2c" points="90.7,53.7 94.4,53.7 94.1,62.8 91.1,62.8"/><polygon fill="#ccff00" stroke="#ccff00" points="53.5,58.2 65.7,57.4 67.2,68.8 59.6,70.3 52.0,68.8"/><polygon fill="#fbd500" stroke="#fbd500" points="49.8,55.2 55.1,58.2 55.1,67.3 47.5,70.3"/><polygon fill="#1fc13f" stroke="#1fc13f" points="68.7,54.4 77.8,55.2 76.3,65.8 70.2,73.4 65.7,68.8"/><polygon fill="#ccff00" stroke="#ccff00" points="99.6,32.4 108.7,27.9 114.8,21.8 122.3,26.4 131.4,23.4 139.0,26.4 148.1,27.9 151.1,34.0 152.6,43.1 149.6,50.6 151.1,62.8 145.1,68.8 143.5,77.6 99.6,77.6"/><polygon fill="#1fc13f" stroke="#1fc13f" points="99.6,8.2 117.8,10.5 114.8,14.3 105.7,18.8 99.6,24.9"/><polygon fill="#1fc13f" stroke="#1fc13f" points="122.3,11.2 137.5,12.8 136.0,18.8 125.4,20.3"/><polygon fill="#1fc13f" stroke="#1fc13f" points="149.6,14.3 162.5,15.5 162.0,27.9 152.6,24.9"/><polygon fill="#239b7c" stroke="#239b7c" points="99.6,12.8 105.7,13.5 105.7,27.9 99.6,29.4"/><polygon fill="#ccff00" stroke="#ccff00" points="108.7,17.3 116.3,17.3 116.3,24.9 108.7,24.9"/><polygon fill="#ccff00" stroke="#ccff00" points="129.9,20.3 139.0,20.3 139.0,32.4 129.9,32.4"/><polygon fill="#fbd500" stroke="#fbd500" points="104.1,35.5 111.7,35.5 111.7,43.1 104.1,43.1"/><polygon fill="#fbd500" stroke="#fbd500" points="125.4,40.0 134.4,40.0 134.4,46.1 125.4,46.1"/><polygon fill="#fbd500" stroke="#fbd500" points="139.0,40.0 145.1,40.0 145.1,46.1 139.0,46.1"/><polygon fill="#fbd500" stroke="#fbd500" points="108.7,55.2 120.8,55.2 120.8,64.3 108.7,64.3"/><polygon fill="#fbd500" stroke="#fbd500" points="99.6,43.1 102.6,43.1 102.6,58.2 99.6,58.2"/><polygon fill="#fbd500" stroke="#fbd500" points="120.8,67.3 126.9,67.3 126.9,76.4 120.8,76.4"/><polygon fill="#33dd00" stroke="#33dd00" points="113.2,37.0 119.3,40.0 117.8,52.1 113.2,49.1"/><polygon fill="#33dd00" stroke="#33dd00" points="134.4,49.1 142.0,58.2 145.1,64.3 139.0,64.3 132.9,55.2"/><polygon fill="#33dd00" stroke="#33dd00" points="126.9,64.3 143.5,64.3 143.5,77.6 126.9,77.6"/><polygon fill="#1fc13f" stroke="#1fc13f" points="152.6,34.0 162.5,32.4 159.4,77.6 149.6,77.6 152.6,62.8 151.9,50.6"/><polygon fill="#fbd500" stroke="#fbd500" points="45.2,76.7 52.0,85.8 55.1,97.9 50.5,110.0 55.1,117.6 49.0,128.2 70.2,134.3 73.2,147.6 24.8,147.6"/><polygon fill="#ccff00" stroke="#ccff00" points="88.4,76.7 103.5,75.2 109.6,82.8 106.6,97.9 100.5,107.0 94.4,113.1 85.4,107.0 79.3,97.9 83.8,85.8"/><polygon fill="#33dd00" stroke="#33dd00" points="47.5,67.6 91.4,67.6 88.4,76.7 82.3,85.8 76.3,94.9 70.2,105.5 64.1,117.6 55.1,128.2 46.0,128.2 50.5,117.6 58.1,107.0 61.1,94.9 64.1,82.8 55.1,76.7 47.5,79.7"/><polygon fill="#1fc13f" stroke="#1fc13f" points="70.2,67.6 80.8,67.6 79.3,79.7 73.2,91.8 67.2,102.4 64.1,100.9 68.7,87.3 70.2,76.7"/><polygon fill="#239b7c" stroke="#239b7c" points="73.2,70.6 77.8,70.6 76.3,81.2 71.7,90.3 70.2,88.8 72.5,79.7"/><polygon fill="#fbd500" stroke="#fbd500" points="74.8,97.9 85.4,97.9 88.4,111.5 76.3,113.1"/><polygon fill="#fbd500" stroke="#fbd500" points="62.6,119.1 85.4,116.1 94.4,113.1 100.5,110.0 109.6,113.1 109.6,134.3 94.4,135.8 73.2,138.8 58.1,134.3"/><polygon fill="#eea012" stroke="#eea012" points="70.2,108.5 80.8,108.5 82.3,117.6 70.2,118.4"/><polygon fill="#c4553a" stroke="#c4553a" points="71.7,112.3 77.0,112.3 76.3,116.1 71.7,116.1"/><polygon fill="#eea012" stroke="#eea012" points="29.3,134.3 55.1,135.8 73.2,138.8 94.4,135.8 109.6,134.3 109.6,147.6 24.8,147.6"/><polygon fill="#e07b2c" stroke="#e07b2c" points="80.8,138.8 91.4,138.8 92.2,147.6 80.1,147.6"/><polygon fill="#c4553a" stroke="#c4553a" points="21.7,141.8 33.8,141.8 33.8,149.4 21.7,149.4"/><polygon fill="#1fc13f" stroke="#1fc13f" points="103.5,81.2 109.6,79.7 109.6,105.5 103.5,102.4 100.5,93.4"/><polygon fill="#ccff00" stroke="#ccff00" points="99.6,67.6 105.7,67.6 105.7,85.8 99.6,85.8"/><polygon fill="#ccff00" stroke="#ccff00" points="99.6,104.0 108.7,104.0 108.7,120.6 99.6,120.6"/><polygon fill="#fbd500" stroke="#fbd500" points="99.6,117.6 105.7,117.6 105.7,134.3 99.6,134.3"/><polygon fill="#1fc13f" stroke="#1fc13f" points="105.7,76.7 120.8,73.7 129.9,76.7 139.0,82.8 139.0,97.9 134.4,111.5 129.9,120.6 120.8,128.2 108.7,131.2 104.1,125.2 108.7,113.1 105.7,100.9 99.6,97.9 102.6,85.8"/><polygon fill="#239b7c" stroke="#239b7c" points="117.8,79.7 129.9,79.7 136.0,90.3 132.9,104.0 126.9,113.1 117.8,113.1 113.2,104.0 116.3,91.8"/><polygon fill="#1c6e8c" stroke="#1c6e8c" points="123.8,82.8 129.1,82.8 129.9,94.9 124.6,94.9"/><polygon fill="#1c6e8c" stroke="#1c6e8c" points="119.3,102.4 126.9,102.4 126.1,111.5 119.3,111.5"/><polygon fill="#239b7c" stroke="#239b7c" points="105.7,120.6 119.3,119.1 122.3,128.2 111.7,132.8 104.1,129.7"/><polygon fill="#ccff00" stroke="#ccff00" points="140.5,82.8 149.6,81.2 160.2,84.3 163.2,91.8 157.2,97.9 145.1,99.4 139.0,93.4"/><polygon fill="#ccff00" stroke="#ccff00" points="143.5,111.5 160.2,110.0 163.2,117.6 160.2,128.2 148.1,129.7 142.0,122.1"/><ellipse fill="#fbd500" cx="157.2" cy="116.1" rx="2.4" ry="2.4"/><polygon fill="#1fc13f" stroke="#1fc13f" points="160.2,82.0 179.9,82.8 177.6,135.8 166.3,134.3 160.2,128.2 164.8,117.6 163.2,105.5 166.3,93.4"/><polygon fill="#ccff00" stroke="#ccff00" points="136.0,132.8 175.4,134.3 176.1,147.6 134.4,147.6"/><polygon fill="#ccff00" stroke="#ccff00" points="114.8,132.8 122.3,128.2 137.5,132.8 136.0,147.6 99.6,147.6 99.6,134.3"/><polygon fill="#eea012" stroke="#eea012" points="122.3,126.7 132.9,125.2 137.5,132.8 134.4,143.4 126.9,144.9 120.8,137.3"/><polygon fill="#e07b2c" stroke="#e07b2c" points="125.4,129.7 131.4,129.7 131.7,138.8 125.7,138.8"/><polygon fill="#fbd500" stroke="#fbd500" points="149.6,135.8 155.7,137.3 154.1,141.8 148.1,140.3"/><polygon fill="#fbd500" stroke="#fbd500" points="35.4,127.6 114.6,127.6 114.6,152.6 104.6,152.6 92.9,145.9 82.9,137.6 71.3,140.9 59.6,140.9 47.9,137.6 34.6,135.9"/><polygon fill="#ccff00" stroke="#ccff00" points="94.6,127.6 114.6,127.6 114.6,137.6 97.9,135.9"/><polygon fill="#ccff00" stroke="#ccff00" points="35.4,127.6 47.9,127.6 46.3,135.1 34.6,135.1"/><polygon fill="#eea012" stroke="#eea012" points="34.6,135.9 47.9,137.6 59.6,140.9 71.3,140.9 82.9,137.6 92.9,145.9 104.6,152.6 114.6,152.6 114.6,157.6 97.9,159.3 91.3,149.3 82.9,139.3 71.3,142.6 54.6,144.3 40.4,145.9 32.9,142.6"/><polygon fill="#e07b2c" stroke="#e07b2c" points="40.4,145.9 54.6,144.3 71.3,142.6 82.9,139.3 91.3,149.3 97.9,159.3 114.6,157.6 114.6,185.9 107.9,194.3 97.9,200.9 91.3,199.3 84.6,194.3 76.3,194.3 71.3,185.9 62.9,180.9 56.3,175.9 54.6,167.6 47.9,160.9 41.3,154.3"/><polygon fill="#c4553a" stroke="#c4553a" points="4.6,142.6 32.9,142.6 40.4,145.9 41.3,154.3 47.9,160.9 54.6,167.6 56.3,175.9 62.9,180.9 71.3,185.9 76.3,194.3 84.6,194.3 91.3,199.3 97.9,200.9 107.9,194.3 114.6,197.6 114.6,237.6 4.6,237.6"/><polygon fill="#c4553a" stroke="#c4553a" points="81.3,140.9 87.9,139.3 89.6,154.3 82.9,155.9"/><polygon fill="#eea012" stroke="#eea012" points="71.3,172.6 84.6,172.6 84.6,180.9 71.3,180.9"/><polygon fill="#eea012" stroke="#eea012" points="56.3,159.3 64.6,159.3 64.6,167.6 56.3,167.6"/><polygon fill="#eea012" stroke="#eea012" points="94.6,167.6 106.3,167.6 106.3,175.9 94.6,175.9"/><ellipse fill="#ccff00" cx="97.1" cy="170.6" rx="1.7" ry="1.7"/><ellipse fill="#fbd500" cx="79.6" cy="191.8" rx="3.0" ry="2.0"/><ellipse fill="#fbd500" cx="89.6" cy="199.3" rx="1.7" ry="1.7"/><polygon fill="#c4553a" stroke="#c4553a" points="107.9,174.3 114.6,172.6 114.6,184.3 109.6,184.3"/><polygon fill="#e07b2c" stroke="#e07b2c" points="97.9,200.9 114.6,199.3 114.6,210.9 104.6,214.3 97.9,210.9"/><polygon fill="#e07b2c" stroke="#e07b2c" points="99.6,157.3 149.6,157.3 160.2,190.6 158.4,230.0 99.6,230.0"/><polygon fill="#ccff00" stroke="#ccff00" points="99.6,137.6 175.4,137.6 175.4,148.2 164.8,148.2 160.2,190.6 154.1,189.1 149.6,183.1 151.1,175.5 154.1,166.4 151.1,157.3 139.0,154.3 129.9,148.2 114.8,149.7 99.6,146.7"/><polygon fill="#33dd00" stroke="#33dd00" points="120.8,137.6 125.4,137.6 124.6,151.2 121.6,151.2"/><polygon fill="#fbd500" stroke="#fbd500" points="99.6,146.7 114.8,149.7 129.9,148.2 139.0,154.3 151.1,157.3 154.1,166.4 149.6,174.0 143.5,177.0 137.5,172.4 129.9,167.9 117.8,158.8 108.7,155.8 99.6,157.3"/><polygon fill="#33dd00" stroke="#33dd00" points="157.2,154.3 162.5,152.8 161.7,161.8 157.9,162.6"/><polygon fill="#33dd00" stroke="#33dd00" points="149.6,180.0 160.2,170.9 161.0,174.0 151.9,183.1"/><polygon fill="#eea012" stroke="#eea012" points="99.6,157.3 108.7,155.8 117.8,158.8 129.9,167.9 137.5,172.4 143.5,177.0 148.1,183.1 149.6,195.2 160.2,195.2 159.4,208.8 151.1,204.3 145.1,198.2 137.5,187.6 129.9,180.0 122.3,167.9 108.7,163.4 99.6,164.9"/><polygon fill="#eea012" stroke="#eea012" points="123.8,189.1 137.5,189.1 136.0,201.2 125.4,199.7"/><polygon fill="#eea012" stroke="#eea012" points="137.5,198.2 151.1,198.2 152.6,207.3 142.0,210.3 136.0,205.8"/><polygon fill="#eea012" stroke="#eea012" points="119.3,205.8 132.9,216.4 129.9,225.5 119.3,222.4"/><polygon fill="#c4553a" stroke="#c4553a" points="110.2,164.9 123.8,163.4 128.4,169.4 125.4,177.0 114.8,175.5 108.7,170.9"/><polygon fill="#c4553a" stroke="#c4553a" points="99.6,181.5 108.7,181.5 119.3,187.6 123.8,195.2 117.8,202.8 122.3,216.4 114.8,230.0 95.1,230.0 95.1,181.5"/><polygon fill="#c4553a" stroke="#c4553a" points="145.1,213.4 158.7,210.3 158.4,230.0 145.1,230.0"/><polygon fill="#c4553a" stroke="#c4553a" points="125.4,201.2 134.4,204.3 129.9,216.4 123.8,213.4"/></g><use href="#L"/></g><use href="#LB"/>
<polygon points="90.5,6.7 162.6,15.5 157.5,80.9 179.0,82.4 175.2,147.9 164.2,147.0 157.4,228.9 112.7,225.8 112.3,228.5 91.8,226.7 91.4,232.5 81.4,230.3 66.9,228.5 51.2,225.9 12.0,200.1 17.0,192.6 16.2,186.8 20.4,177.6 24.5,172.6 22.0,162.6 23.7,149.3 24.5,143.4 28.7,144.3 32.9,139.3 34.5,127.6 50.8,49.9 83.7,54.9" fill="none" stroke="#222" stroke-width="0.5"/>
<text x="235.3" y="33.9" class="tt" text-anchor="middle">Intermountain West</text><text x="236.7" y="44.7" class="tt" text-anchor="middle">April Precipitation</text><text x="236.7" y="55.5" class="tt" text-anchor="middle">1 - 30 April 2018</text><text x="236.7" y="66.3" class="tt" text-anchor="middle">ending 7AM</text><text x="198.4" y="113.0" class="lt" style="font-size:5.6px">01_30apr18</text><text x="198.4" y="120.9" class="lt">Precip (inches)</text><rect x="198.4" y="124.8" width="12" height="5.5" fill="#c4553a" stroke="#555" stroke-width="0.3"/><text x="212.70000000000002" y="129.4" class="ll">0.00</text><rect x="198.4" y="132.8" width="12" height="5.5" fill="#e07b2c" stroke="#555" stroke-width="0.3"/><text x="212.70000000000002" y="137.4" class="ll">0.01 - 0.10</text><rect x="198.4" y="140.8" width="12" height="5.5" fill="#eea012" stroke="#555" stroke-width="0.3"/><text x="212.70000000000002" y="145.4" class="ll">0.11 - 0.25</text><rect x="198.4" y="148.8" width="12" height="5.5" fill="#fbd500" stroke="#555" stroke-width="0.3"/><text x="212.70000000000002" y="153.4" class="ll">0.26 - 0.50</text><rect x="198.4" y="156.8" width="12" height="5.5" fill="#ccff00" stroke="#555" stroke-width="0.3"/><text x="212.70000000000002" y="161.4" class="ll">0.51 - 1.00</text><rect x="198.4" y="164.8" width="12" height="5.5" fill="#33dd00" stroke="#555" stroke-width="0.3"/><text x="212.70000000000002" y="169.4" class="ll">1.01 - 2.00</text><rect x="198.4" y="172.8" width="12" height="5.5" fill="#1fc13f" stroke="#555" stroke-width="0.3"/><text x="212.70000000000002" y="177.4" class="ll">2.01 - 4.00</text><rect x="198.4" y="180.8" width="12" height="5.5" fill="#239b7c" stroke="#555" stroke-width="0.3"/><text x="212.70000000000002" y="185.4" class="ll">4.01 - 6.00</text><rect x="198.4" y="188.8" width="12" height="5.5" fill="#1c6e8c" stroke="#555" stroke-width="0.3"/><text x="212.70000000000002" y="193.4" class="ll">6.01 - 8.00</text><rect x="198.4" y="196.8" width="12" height="5.5" fill="#0c2a80" stroke="#555" stroke-width="0.3"/><text x="212.70000000000002" y="201.4" class="ll">8.01 - 9.30</text><rect x="198.4" y="204.8" width="12" height="5.5" fill="#fff" stroke="#333" stroke-width="0.5"/><text x="212.70000000000002" y="209.4" class="ll">Upper Colorado River Basin</text><text x="198.4" y="218.3" class="ld">Data from PRISM Climate Group</text>
<rect x="0" y="0" width="314" height="243" fill="none" stroke="#000" stroke-width="1"/>
</svg><svg class="map" style="left:11px;top:350px" width="316" height="245" viewBox="-0.5 -0.5 316 245">
<defs><clipPath id="c2"><polygon points="90.5,6.7 162.6,15.5 157.5,80.9 179.0,82.4 175.2,147.9 164.2,147.0 157.4,228.9 112.7,225.8 112.3,228.5 91.8,226.7 91.4,232.5 81.4,230.3 66.9,228.5 51.2,225.9 12.0,200.1 17.0,192.6 16.2,186.8 20.4,177.6 24.5,172.6 22.0,162.6 23.7,149.3 24.5,143.4 28.7,144.3 32.9,139.3 34.5,127.6 50.8,49.9 83.7,54.9"/></clipPath>
<filter id="b2" x="-5%" y="-5%" width="110%" height="110%"><feTurbulence type="fractalNoise" baseFrequency="0.13" numOctaves="3" seed="5" result="n"/><feGaussianBlur in="SourceGraphic" stdDeviation="1.3" result="g"/><feDisplacementMap in="g" in2="n" scale="7" xChannelSelector="R" yChannelSelector="G"/></filter></defs>
<g clip-path="url(#c2)"><g class="m" filter="url(#b2)"><rect width="320" height="250" fill="#ffe000"/><polygon fill="#88ee00" stroke="#88ee00" points="90.5,6.7 108.7,9.0 108.7,52.1 93.5,55.2 84.5,61.2 83.7,54.9"/><polygon fill="#22dd00" stroke="#22dd00" points="89.0,20.3 98.1,21.8 99.6,35.5 90.5,37.0 86.7,32.4"/><polygon fill="#22b070" stroke="#22b070" points="93.5,44.6 102.6,43.1 103.4,53.7 94.3,54.4"/><polygon fill="#eeff00" stroke="#eeff00" points="102.6,12.8 108.7,12.8 108.7,43.1 99.6,43.1 99.6,27.9"/><polygon fill="#f5b80a" stroke="#f5b80a" points="105.7,17.3 108.7,17.3 108.7,24.9 105.7,24.9"/><polygon fill="#eeff00" stroke="#eeff00" points="93.5,55.2 108.7,52.1 108.7,77.6 84.5,77.6 84.5,61.2"/><polygon fill="#1f8094" stroke="#1f8094" points="50.4,49.9 72.3,53.7 69.3,62.8 66.3,70.3 60.2,77.6 45.8,77.6"/><polygon fill="#0c2a80" stroke="#0c2a80" points="49.6,56.7 58.7,59.7 60.2,68.8 54.2,77.6 45.8,77.6"/><polygon fill="#22dd00" stroke="#22dd00" points="69.3,53.7 82.9,54.9 81.4,68.8 75.4,77.6 60.2,77.6 66.3,70.3 69.3,62.8"/><polygon fill="#88ee00" stroke="#88ee00" points="79.9,55.2 87.5,55.9 87.5,77.6 78.4,77.6"/><polygon fill="#22dd00" stroke="#22dd00" points="98.7,6.7 129.0,12.8 130.5,20.3 127.5,27.9 124.5,40.0 129.0,47.6 136.6,50.6 144.2,58.2 151.7,65.8 158.5,64.3 157.0,77.6 144.2,77.6 141.1,65.8 132.0,58.2 121.4,55.2 113.9,49.1 107.8,49.1 98.7,55.2"/><polygon fill="#88ee00" stroke="#88ee00" points="98.7,6.7 107.8,8.2 107.8,17.3 98.7,17.3"/><polygon fill="#eeff00" stroke="#eeff00" points="98.7,17.3 104.8,18.8 104.8,27.9 110.8,30.9 107.8,46.1 98.7,47.6"/><polygon fill="#ffe000" stroke="#ffe000" points="107.8,9.7 115.4,10.5 113.9,20.3 110.8,30.9 104.8,27.9 104.8,18.8"/><polygon fill="#ef9a10" stroke="#ef9a10" points="106.3,18.8 110.8,18.8 110.8,26.4 106.3,26.4"/><polygon fill="#22b070" stroke="#22b070" points="129.0,12.8 162.6,15.5 160.8,47.6 158.5,64.3 151.7,65.8 144.2,58.2 136.6,50.6 129.0,47.6 124.5,40.0 127.5,27.9 130.5,20.3"/><polygon fill="#239b8c" stroke="#239b8c" points="138.1,14.3 162.6,15.5 160.8,47.6 158.5,64.3 151.7,64.3 147.2,55.2 144.2,43.1 141.1,27.9"/><polygon fill="#1f8094" stroke="#1f8094" points="141.1,17.3 159.3,18.8 158.5,37.0 144.2,37.0"/><ellipse fill="#1a5a8c" cx="152.5" cy="30.9" rx="2.4" ry="2.4"/><ellipse fill="#1a5a8c" cx="149.5" cy="21.1" rx="2.1" ry="2.1"/><ellipse fill="#1a5a8c" cx="153.2" cy="58.2" rx="2.4" ry="2.1"/><polygon fill="#239b8c" stroke="#239b8c" points="110.8,37.0 121.4,37.0 122.9,44.6 113.9,47.6 107.8,43.1"/><ellipse fill="#1a5a8c" cx="116.9" cy="42.3" rx="2.7" ry="1.8"/><polygon fill="#eeff00" stroke="#eeff00" points="98.7,55.2 107.8,49.1 113.9,49.1 121.4,55.2 132.0,58.2 141.1,65.8 144.2,77.6 98.7,77.6"/><polygon fill="#f5b80a" stroke="#f5b80a" points="124.5,61.2 135.1,61.2 135.1,68.8 124.5,68.8"/><polygon fill="#88ee00" stroke="#88ee00" points="107.8,55.2 119.9,55.9 119.2,64.3 107.8,64.3"/><polygon fill="#eeff00" stroke="#eeff00" points="40.5,107.0 58.7,100.9 61.7,120.6 55.7,126.7 57.2,135.8 51.1,141.8 31.4,147.6 23.9,147.6 34.5,128.2"/><polygon fill="#f5b80a" stroke="#f5b80a" points="34.5,128.2 48.1,128.2 48.1,147.6 26.9,147.6"/><polygon fill="#11cc44" stroke="#11cc44" points="57.2,67.6 90.5,67.6 93.5,79.7 87.5,91.8 79.9,97.9 69.3,97.9 60.2,94.9 58.7,79.7"/><polygon fill="#88ee00" stroke="#88ee00" points="60.2,82.8 69.3,82.8 69.3,91.8 60.2,91.8"/><polygon fill="#eeff00" stroke="#eeff00" points="75.4,82.8 81.4,82.8 81.4,97.9 75.4,97.9"/><polygon fill="#1f8094" stroke="#1f8094" points="46.6,67.6 57.2,67.6 58.7,79.7 60.2,94.9 54.2,102.4 45.1,97.9 42.8,87.3"/><polygon fill="#0c2a80" stroke="#0c2a80" points="46.6,67.6 55.7,67.6 55.7,78.2 45.8,76.7"/><polygon fill="#22dd00" stroke="#22dd00" points="43.5,97.9 54.2,102.4 58.7,100.9 57.2,107.0 42.0,108.5"/><polygon fill="#22dd00" stroke="#22dd00" points="69.3,108.5 84.5,105.5 87.5,116.1 78.4,128.2 69.3,137.3 57.2,135.8 55.7,126.7 61.7,120.6 69.3,116.1"/><polygon fill="#1f8094" stroke="#1f8094" points="70.8,97.9 79.9,96.4 84.5,104.0 79.9,111.5 72.3,108.5 69.3,102.4"/><ellipse fill="#1a5a8c" cx="76.1" cy="102.1" rx="2.4" ry="3.3"/><polygon fill="#e68020" stroke="#e68020" points="58.7,102.4 66.3,102.4 64.8,110.0 58.7,110.0"/><polygon fill="#88ee00" stroke="#88ee00" points="93.5,67.6 108.7,67.6 108.7,76.7 93.5,79.7"/><polygon fill="#eeff00" stroke="#eeff00" points="93.5,79.7 108.7,76.7 108.7,116.1 93.5,119.1 87.5,116.1 84.5,105.5 87.5,91.8"/><polygon fill="#88ee00" stroke="#88ee00" points="96.6,82.8 108.7,81.2 108.7,105.5 99.6,107.0"/><polygon fill="#ef9a10" stroke="#ef9a10" points="81.4,125.2 93.5,119.1 108.7,116.1 108.7,147.6 81.4,147.6 75.4,138.8"/><polygon fill="#e68020" stroke="#e68020" points="93.5,120.6 108.7,120.6 108.7,131.2 93.5,131.2"/><polygon fill="#e68020" stroke="#e68020" points="90.5,138.8 108.7,138.8 108.7,147.6 90.5,147.6"/><polygon fill="#eeff00" stroke="#eeff00" points="98.7,67.6 133.5,67.6 135.1,97.9 129.0,113.1 98.7,114.6"/><polygon fill="#88ee00" stroke="#88ee00" points="107.8,73.7 130.5,75.2 130.5,99.4 116.9,107.0 107.8,97.9"/><polygon fill="#88ee00" stroke="#88ee00" points="98.7,82.8 107.8,87.3 113.9,93.4 110.8,102.4 104.8,111.5 98.7,113.1"/><polygon fill="#22dd00" stroke="#22dd00" points="98.7,88.8 104.8,90.3 105.5,97.9 98.7,99.4"/><polygon fill="#11cc44" stroke="#11cc44" points="133.5,67.6 157.5,67.6 157.5,80.9 150.2,82.8 141.1,81.2 135.1,76.7"/><ellipse fill="#1f8094" cx="140.4" cy="75.2" rx="3.8" ry="3.0"/><ellipse fill="#22dd00" cx="130.5" cy="85.0" rx="4.5" ry="3.8"/><ellipse fill="#1f8094" cx="129.8" cy="86.1" rx="1.8" ry="1.4"/><polygon fill="#88ee00" stroke="#88ee00" points="148.7,84.3 159.3,82.8 159.3,93.4 148.7,93.4"/><polygon fill="#22dd00" stroke="#22dd00" points="141.1,93.4 162.3,94.9 163.9,104.0 150.2,105.5 142.6,100.9"/><ellipse fill="#239b8c" cx="150.2" cy="99.4" rx="3.8" ry="1.8"/><polygon fill="#f5b80a" stroke="#f5b80a" points="159.3,82.0 179.0,82.8 176.7,147.6 162.3,147.6 165.4,113.1 163.9,94.9"/><polygon fill="#ef9a10" stroke="#ef9a10" points="98.7,114.6 113.9,113.1 129.0,116.1 144.2,117.6 162.3,113.1 176.7,116.1 176.0,147.6 98.7,147.6"/><polygon fill="#e68020" stroke="#e68020" points="100.2,119.1 107.8,119.1 107.8,125.2 100.2,125.2"/><polygon fill="#e68020" stroke="#e68020" points="126.0,122.1 138.1,122.1 138.1,128.2 126.0,128.2"/><polygon fill="#e68020" stroke="#e68020" points="133.5,134.3 138.1,134.3 138.1,140.3 133.5,140.3"/><polygon fill="#e68020" stroke="#e68020" points="163.9,138.8 176.0,138.8 176.0,147.6 163.9,147.6"/><ellipse fill="#eeff00" cx="129.8" cy="130.5" rx="3.8" ry="3.8"/><polygon fill="#f5b80a" stroke="#f5b80a" points="20.4,137.6 113.7,127.6 113.7,237.6 3.7,237.6 3.7,137.6"/><polygon fill="#88ee00" stroke="#88ee00" points="34.5,127.6 83.7,127.6 82.0,137.6 67.0,144.3 53.7,140.9 33.7,135.9"/><polygon fill="#11cc44" stroke="#11cc44" points="52.0,127.6 77.0,127.6 75.4,135.9 67.0,140.9 58.7,139.3 53.7,134.3"/><polygon fill="#ffe000" stroke="#ffe000" points="23.7,142.6 53.7,137.6 70.4,144.3 67.0,160.9 53.7,169.3 37.0,174.3 25.4,172.6 22.0,160.9"/><polygon fill="#eeff00" stroke="#eeff00" points="24.5,142.6 42.0,140.9 40.4,160.9 25.4,165.9 22.0,160.9"/><ellipse fill="#22dd00" cx="32.9" cy="147.6" rx="3.7" ry="2.7"/><polygon fill="#ef9a10" stroke="#ef9a10" points="67.0,144.3 90.4,140.9 87.0,177.6 77.0,190.9 67.0,194.3 60.4,177.6 63.7,167.6 67.0,160.9"/><polygon fill="#dc6a30" stroke="#dc6a30" points="20.4,175.9 37.0,175.9 47.0,182.6 60.4,177.6 67.0,194.3 77.0,190.9 82.0,199.3 82.0,214.3 92.0,227.6 91.2,234.3 51.2,227.6 10.4,200.9 17.0,192.6 15.4,186.8"/><polygon fill="#c8553d" stroke="#c8553d" points="20.4,194.3 57.0,194.3 60.4,202.6 30.4,205.9"/><polygon fill="#ef9a10" stroke="#ef9a10" points="82.0,199.3 103.7,202.6 113.7,210.9 113.7,230.9 91.7,229.3 82.0,214.3"/><polygon fill="#eeff00" stroke="#eeff00" points="82.0,160.9 113.7,157.6 113.7,202.6 103.7,202.6 97.0,194.3 87.0,190.9 80.4,182.6"/><polygon fill="#88ee00" stroke="#88ee00" points="82.0,175.9 93.7,175.9 93.7,185.9 82.0,185.9"/><polygon fill="#88ee00" stroke="#88ee00" points="93.7,184.3 107.0,184.3 107.0,194.3 93.7,194.3"/><polygon fill="#88ee00" stroke="#88ee00" points="93.7,160.9 103.7,160.9 103.7,165.9 93.7,165.9"/><ellipse fill="#22dd00" cx="87.0" cy="180.9" rx="2.3" ry="1.7"/><ellipse fill="#22dd00" cx="99.5" cy="163.4" rx="2.3" ry="1.3"/><polygon fill="#ef9a10" stroke="#ef9a10" points="83.7,134.3 113.7,130.9 113.7,157.6 93.7,159.3 87.0,147.6"/><polygon fill="#dc6a30" stroke="#dc6a30" points="90.4,135.9 110.4,134.3 110.4,149.3 93.7,150.9"/><polygon fill="#f5b80a" stroke="#f5b80a" points="98.7,146.7 163.9,146.7 159.3,190.6 157.5,230.0 98.7,230.0"/><polygon fill="#ef9a10" stroke="#ef9a10" points="98.7,137.6 175.2,137.6 175.2,147.9 163.9,148.2 98.7,146.7"/><polygon fill="#dc6a30" stroke="#dc6a30" points="163.9,137.6 175.2,137.6 175.2,147.4 163.9,147.0"/><polygon fill="#eeff00" stroke="#eeff00" points="98.7,158.8 113.9,158.8 118.4,167.9 122.9,177.0 121.4,187.6 116.9,198.2 107.8,201.2 98.7,198.2"/><polygon fill="#88ee00" stroke="#88ee00" points="109.3,158.8 116.9,158.8 116.1,167.9 109.3,167.9"/><polygon fill="#88ee00" stroke="#88ee00" points="100.2,164.9 109.3,164.9 107.8,174.0 100.2,174.0"/><polygon fill="#88ee00" stroke="#88ee00" points="98.7,181.5 106.3,181.5 104.8,192.1 98.7,192.1"/><ellipse fill="#22dd00" cx="113.1" cy="162.6" rx="1.5" ry="2.1"/><ellipse fill="#22dd00" cx="104.0" cy="169.4" rx="1.8" ry="1.5"/><polygon fill="#e68020" stroke="#e68020" points="124.5,160.3 138.1,160.3 138.1,175.5 124.5,175.5"/><polygon fill="#dc6a30" stroke="#dc6a30" points="138.1,172.4 148.7,174.0 160.8,167.9 159.3,198.2 150.2,208.8 139.6,207.3 136.6,195.2 138.1,183.1"/><polygon fill="#c8553d" stroke="#c8553d" points="142.6,181.5 158.5,180.0 157.8,193.7 142.6,194.4"/><polygon fill="#dc6a30" stroke="#dc6a30" points="151.7,148.2 163.1,148.2 161.6,169.4 150.2,172.4 148.7,160.3"/><polygon fill="#ffe000" stroke="#ffe000" points="122.9,178.5 138.1,178.5 136.6,201.2 122.9,201.2"/><polygon fill="#dc6a30" stroke="#dc6a30" points="118.4,202.8 124.5,202.8 124.5,213.4 118.4,213.4"/><polygon fill="#dc6a30" stroke="#dc6a30" points="98.7,198.2 103.2,198.2 103.2,210.3 98.7,210.3"/><polygon fill="#88ee00" stroke="#88ee00" points="113.9,219.4 129.0,216.4 135.1,222.4 129.0,228.5 113.9,228.5"/><ellipse fill="#eeff00" cx="145.7" cy="207.3" rx="3.3" ry="3.0"/><polygon fill="#88ee00" stroke="#88ee00" points="150.2,213.4 157.5,212.6 157.0,228.5 150.2,228.5"/><ellipse fill="#11cc44" cx="152.5" cy="222.4" rx="1.2" ry="3.8"/></g><use href="#L"/></g><use href="#LB"/>
<polygon points="90.5,6.7 162.6,15.5 157.5,80.9 179.0,82.4 175.2,147.9 164.2,147.0 157.4,228.9 112.7,225.8 112.3,228.5 91.8,226.7 91.4,232.5 81.4,230.3 66.9,228.5 51.2,225.9 12.0,200.1 17.0,192.6 16.2,186.8 20.4,177.6 24.5,172.6 22.0,162.6 23.7,149.3 24.5,143.4 28.7,144.3 32.9,139.3 34.5,127.6 50.8,49.9 83.7,54.9" fill="none" stroke="#222" stroke-width="0.5"/>
<text x="235.5" y="34.5" class="tt" text-anchor="middle">Intermountain West</text><text x="236.7" y="45.4" class="tt" text-anchor="middle">March 2018 Precipitation</text><text x="236.7" y="56.3" class="tt" text-anchor="middle">as a Percentage of Normal</text><text x="198.4" y="72.8" class="lt" style="font-size:5.6px">march18_pn</text><text x="198.4" y="80.7" class="lt">Precip as % of normal</text><rect x="198.4" y="83.7" width="12" height="5.5" fill="#c8553d" stroke="#555" stroke-width="0.3"/><text x="212.70000000000002" y="88.3" class="ll">0</text><rect x="198.4" y="91.7" width="12" height="5.5" fill="#dc6a30" stroke="#555" stroke-width="0.3"/><text x="212.70000000000002" y="96.3" class="ll">1 - 10</text><rect x="198.4" y="99.7" width="12" height="5.5" fill="#e68020" stroke="#555" stroke-width="0.3"/><text x="212.70000000000002" y="104.3" class="ll">11 - 20</text><rect x="198.4" y="107.7" width="12" height="5.5" fill="#ef9a10" stroke="#555" stroke-width="0.3"/><text x="212.70000000000002" y="112.3" class="ll">21 - 30</text><rect x="198.4" y="115.7" width="12" height="5.5" fill="#f5b80a" stroke="#555" stroke-width="0.3"/><text x="212.70000000000002" y="120.3" class="ll">31 - 50</text><rect x="198.4" y="123.7" width="12" height="5.5" fill="#ffe000" stroke="#555" stroke-width="0.3"/><text x="212.70000000000002" y="128.3" class="ll">51 - 70</text><rect x="198.4" y="131.7" width="12" height="5.5" fill="#eeff00" stroke="#555" stroke-width="0.3"/><text x="212.70000000000002" y="136.3" class="ll">71 - 90</text><rect x="198.4" y="139.7" width="12" height="5.5" fill="#88ee00" stroke="#555" stroke-width="0.3"/><text x="212.70000000000002" y="144.3" class="ll">91 - 110</text><rect x="198.4" y="147.7" width="12" height="5.5" fill="#22dd00" stroke="#555" stroke-width="0.3"/><text x="212.70000000000002" y="152.3" class="ll">111 - 130</text><rect x="198.4" y="155.7" width="12" height="5.5" fill="#11cc44" stroke="#555" stroke-width="0.3"/><text x="212.70000000000002" y="160.3" class="ll">131 - 150</text><rect x="198.4" y="163.7" width="12" height="5.5" fill="#22b070" stroke="#555" stroke-width="0.3"/><text x="212.70000000000002" y="168.3" class="ll">151 - 170</text><rect x="198.4" y="171.7" width="12" height="5.5" fill="#239b8c" stroke="#555" stroke-width="0.3"/><text x="212.70000000000002" y="176.3" class="ll">171 - 200</text><rect x="198.4" y="179.7" width="12" height="5.5" fill="#1f8094" stroke="#555" stroke-width="0.3"/><text x="212.70000000000002" y="184.3" class="ll">201 - 250</text><rect x="198.4" y="187.7" width="12" height="5.5" fill="#1a5a8c" stroke="#555" stroke-width="0.3"/><text x="212.70000000000002" y="192.3" class="ll">251 - 300</text><rect x="198.4" y="195.7" width="12" height="5.5" fill="#0c2a80" stroke="#555" stroke-width="0.3"/><text x="212.70000000000002" y="200.3" class="ll">300+</text><rect x="198.4" y="203.7" width="12" height="5.5" fill="#fff" stroke="#333" stroke-width="0.5"/><text x="212.70000000000002" y="208.3" class="ll">Upper Colorado River Basin</text><text x="198.4" y="217.2" class="ld">Data from PRISM Climate Group</text>
<rect x="0" y="0" width="314" height="242" fill="none" stroke="#000" stroke-width="1"/>
</svg><svg class="map" style="left:330px;top:350px" width="316" height="245" viewBox="-0.5 -0.5 316 245">
<defs><clipPath id="c3"><polygon points="90.5,6.7 162.6,15.5 157.5,80.9 179.0,82.4 175.2,147.9 164.2,147.0 157.4,228.9 112.7,225.8 112.3,228.5 91.8,226.7 91.4,232.5 81.4,230.3 66.9,228.5 51.2,225.9 12.0,200.1 17.0,192.6 16.2,186.8 20.4,177.6 24.5,172.6 22.0,162.6 23.7,149.3 24.5,143.4 28.7,144.3 32.9,139.3 34.5,127.6 50.8,49.9 83.7,54.9"/></clipPath>
<filter id="b3" x="-5%" y="-5%" width="110%" height="110%"><feTurbulence type="fractalNoise" baseFrequency="0.13" numOctaves="3" seed="6" result="n"/><feGaussianBlur in="SourceGraphic" stdDeviation="1.3" result="g"/><feDisplacementMap in="g" in2="n" scale="7" xChannelSelector="R" yChannelSelector="G"/></filter></defs>
<g clip-path="url(#c3)"><g class="m" filter="url(#b3)"><rect width="320" height="250" fill="#ffe000"/><polygon fill="#22dd00" stroke="#22dd00" points="89.9,6.7 109.6,9.0 109.6,58.2 94.4,58.2 85.4,61.2 84.6,54.9"/><polygon fill="#88ee00" stroke="#88ee00" points="89.1,12.8 96.0,12.8 94.4,43.1 86.1,43.1"/><polygon fill="#22b070" stroke="#22b070" points="99.0,12.0 109.6,12.8 109.6,17.3 99.0,17.3"/><polygon fill="#ffe000" stroke="#ffe000" points="106.6,17.3 109.6,17.3 109.6,27.9 106.6,27.9"/><polygon fill="#239b8c" stroke="#239b8c" points="100.5,32.4 109.6,32.4 109.6,43.1 100.5,43.1"/><polygon fill="#239b8c" stroke="#239b8c" points="96.0,46.1 105.1,46.1 105.1,55.2 96.0,55.2"/><polygon fill="#88ee00" stroke="#88ee00" points="94.4,58.2 109.6,58.2 109.6,77.6 85.4,77.6 85.4,61.2"/><polygon fill="#eeff00" stroke="#eeff00" points="94.4,65.8 109.6,64.3 109.6,77.6 91.4,77.6"/><polygon fill="#eeff00" stroke="#eeff00" points="52.0,50.6 73.2,53.7 73.2,67.3 52.0,67.3"/><polygon fill="#f5b80a" stroke="#f5b80a" points="67.2,62.8 76.3,62.8 76.3,70.3 67.2,70.3"/><polygon fill="#22dd00" stroke="#22dd00" points="48.2,58.2 55.1,58.2 64.1,61.2 64.1,77.6 46.0,77.6"/><polygon fill="#1f8094" stroke="#1f8094" points="48.2,62.8 55.1,61.2 56.6,70.3 52.0,77.6 46.0,77.6"/><polygon fill="#88ee00" stroke="#88ee00" points="76.3,55.2 84.6,54.9 85.4,77.6 76.3,77.6"/><polygon fill="#22dd00" stroke="#22dd00" points="99.6,6.7 162.5,15.5 159.4,77.6 99.6,77.6"/><polygon fill="#11cc44" stroke="#11cc44" points="113.2,9.7 162.5,15.5 161.0,43.1 145.1,43.1 136.0,43.1 125.4,49.1 110.2,47.6 102.6,38.5 107.2,27.9"/><polygon fill="#239b8c" stroke="#239b8c" points="114.8,11.2 129.9,12.8 134.4,20.3 145.1,17.3 152.6,24.9 145.1,37.0 136.0,40.0 125.4,47.6 111.7,46.1 104.1,38.5 108.7,30.9 117.8,27.9 120.8,20.3"/><polygon fill="#22b070" stroke="#22b070" points="145.1,14.3 162.0,16.1 161.4,27.9 152.6,24.9 145.1,17.3"/><polygon fill="#1a5a8c" stroke="#1a5a8c" points="110.2,35.5 120.8,35.5 120.8,44.6 110.2,44.6"/><ellipse fill="#0c2a80" cx="115.5" cy="39.7" rx="1.5" ry="1.5"/><polygon fill="#eeff00" stroke="#eeff00" points="104.1,17.3 111.7,17.3 111.7,27.9 104.1,27.9"/><polygon fill="#eeff00" stroke="#eeff00" points="120.8,12.8 126.9,12.8 126.9,18.8 120.8,18.8"/><polygon fill="#88ee00" stroke="#88ee00" points="152.6,43.1 161.0,43.1 159.9,61.2 152.6,58.2"/><ellipse fill="#eeff00" cx="139.8" cy="52.1" rx="3.8" ry="3.0"/><polygon fill="#88ee00" stroke="#88ee00" points="99.6,58.2 129.9,58.2 157.2,55.2 157.9,77.6 99.6,77.6"/><polygon fill="#eeff00" stroke="#eeff00" points="131.4,68.8 139.0,68.8 139.0,77.6 131.4,77.6"/><polygon fill="#eeff00" stroke="#eeff00" points="99.6,64.3 120.8,62.8 139.0,68.8 139.0,77.6 99.6,77.6"/><polygon fill="#f5b80a" stroke="#f5b80a" points="32.3,102.4 109.6,113.1 109.6,147.6 21.7,147.6"/><polygon fill="#eeff00" stroke="#eeff00" points="44.4,67.6 109.6,67.6 109.6,113.1 85.4,113.1 70.2,110.0 62.6,104.0 39.9,102.4"/><polygon fill="#22dd00" stroke="#22dd00" points="61.1,67.6 103.5,67.6 100.5,73.7 85.4,75.2 73.2,73.7 62.6,72.1"/><polygon fill="#1f8094" stroke="#1f8094" points="47.5,67.6 55.1,67.6 55.1,76.7 52.0,82.8 47.5,79.7 46.0,73.7"/><polygon fill="#22b070" stroke="#22b070" points="55.4,91.8 58.8,91.8 58.4,100.9 55.1,100.9"/><polygon fill="#22dd00" stroke="#22dd00" points="73.2,97.9 82.3,94.9 85.4,102.4 82.3,110.0 73.2,107.0 70.2,102.4"/><ellipse fill="#22dd00" cx="66.4" cy="100.2" rx="2.3" ry="2.3"/><polygon fill="#ef9a10" stroke="#ef9a10" points="82.3,125.2 94.4,116.1 109.6,113.1 109.6,147.6 76.3,147.6"/><polygon fill="#e68020" stroke="#e68020" points="89.9,131.2 100.5,131.2 100.5,143.4 89.9,143.4"/><polygon fill="#eeff00" stroke="#eeff00" points="99.6,67.6 122.3,67.6 122.3,105.5 99.6,105.5"/><polygon fill="#88ee00" stroke="#88ee00" points="108.7,67.6 129.9,67.6 129.9,85.8 114.8,111.5 108.7,85.8"/><polygon fill="#88ee00" stroke="#88ee00" points="149.6,81.2 166.3,82.8 166.3,94.9 149.6,94.9"/><polygon fill="#88ee00" stroke="#88ee00" points="114.8,67.6 158.4,67.6 158.4,80.9 166.3,82.8 163.2,94.9 151.1,104.0 139.0,107.0 129.9,111.5 123.8,104.0 125.4,90.3 119.3,79.7"/><polygon fill="#22dd00" stroke="#22dd00" points="119.3,67.6 158.4,67.6 158.4,80.9 160.2,85.8 149.6,93.4 140.5,97.9 136.0,107.0 129.9,108.5 126.9,102.4 128.4,90.3 123.8,79.7"/><ellipse fill="#1f8094" cx="131.0" cy="85.8" rx="2.7" ry="2.3"/><polygon fill="#eeff00" stroke="#eeff00" points="163.2,82.8 179.9,82.8 178.4,107.0 163.2,107.0"/><polygon fill="#f5b80a" stroke="#f5b80a" points="99.6,105.5 178.4,105.5 177.6,120.6 99.6,120.6"/><polygon fill="#ef9a10" stroke="#ef9a10" points="99.6,117.6 114.8,113.1 129.9,117.6 142.0,111.5 163.2,113.1 177.6,110.0 176.1,147.6 99.6,147.6"/><polygon fill="#e68020" stroke="#e68020" points="99.6,122.1 108.7,122.1 108.7,134.3 99.6,134.3"/><polygon fill="#e68020" stroke="#e68020" points="166.3,125.2 176.9,125.2 176.1,147.6 166.3,143.4"/><polygon fill="#f5b80a" stroke="#f5b80a" points="126.9,134.3 160.2,138.8 160.2,147.6 123.8,147.6"/><polygon fill="#f5b80a" stroke="#f5b80a" points="4.6,137.6 114.6,127.6 114.6,237.6 4.6,237.6"/><polygon fill="#ef9a10" stroke="#ef9a10" points="21.3,157.6 37.9,160.9 41.3,174.3 54.6,175.9 61.3,184.3 54.6,194.3 37.9,194.3 24.6,200.9 11.3,200.9 17.9,184.3 24.6,174.3"/><polygon fill="#e68020" stroke="#e68020" points="17.9,177.6 32.9,177.6 47.9,182.6 57.9,187.6 51.3,194.3 34.6,190.9 21.3,197.6 16.3,190.9"/><polygon fill="#ef9a10" stroke="#ef9a10" points="62.9,149.3 77.9,147.6 79.6,170.9 74.6,175.9 67.9,170.9 64.6,160.9"/><polygon fill="#e68020" stroke="#e68020" points="67.1,152.6 76.3,152.6 76.3,170.9 68.8,169.3"/><polygon fill="#e68020" stroke="#e68020" points="91.3,137.6 104.6,137.6 104.6,150.9 91.3,150.9"/><polygon fill="#ffe000" stroke="#ffe000" points="71.3,197.6 114.6,177.6 114.6,230.9 92.9,230.9 74.6,220.9"/><polygon fill="#ffe000" stroke="#ffe000" points="54.6,214.3 71.3,210.9 74.6,230.9 57.9,229.3"/><ellipse fill="#88ee00" cx="107.1" cy="217.6" rx="3.7" ry="3.0"/><polygon fill="#ffe000" stroke="#ffe000" points="99.6,152.8 164.8,148.2 160.2,190.6 158.4,230.0 99.6,230.0"/><polygon fill="#ef9a10" stroke="#ef9a10" points="99.6,137.6 108.7,137.6 108.7,152.8 99.6,152.8"/><polygon fill="#e68020" stroke="#e68020" points="164.8,137.6 176.1,137.6 176.1,147.4 164.8,147.0"/><polygon fill="#ef9a10" stroke="#ef9a10" points="152.6,149.7 162.5,149.7 161.7,160.3 152.6,160.3"/><polygon fill="#f5b80a" stroke="#f5b80a" points="108.7,146.7 137.5,146.7 137.5,164.9 108.7,164.9"/><polygon fill="#f5b80a" stroke="#f5b80a" points="119.3,177.0 134.4,177.0 134.4,189.1 119.3,189.1"/><polygon fill="#f5b80a" stroke="#f5b80a" points="149.6,177.0 160.5,177.0 158.7,230.0 149.6,230.0"/><polygon fill="#f5b80a" stroke="#f5b80a" points="129.9,210.3 145.1,210.3 145.1,230.0 129.9,230.0"/><polygon fill="#22dd00" stroke="#22dd00" points="134.4,174.0 142.0,172.4 151.1,170.9 160.2,161.8 162.5,162.6 161.7,167.9 152.6,175.5 146.6,181.5 148.1,187.6 139.0,187.6 132.9,181.5"/><polygon fill="#239b8c" stroke="#239b8c" points="137.5,181.5 143.5,181.5 143.5,186.8 137.5,186.8"/><ellipse fill="#22dd00" cx="135.2" cy="203.5" rx="2.3" ry="2.3"/><ellipse fill="#88ee00" cx="142.8" cy="204.3" rx="5.3" ry="2.7"/><ellipse fill="#88ee00" cx="114.8" cy="220.2" rx="1.5" ry="3.8"/><ellipse fill="#88ee00" cx="101.9" cy="219.4" rx="2.3" ry="3.0"/></g><use href="#L"/></g><use href="#LB"/>
<polygon points="90.5,6.7 162.6,15.5 157.5,80.9 179.0,82.4 175.2,147.9 164.2,147.0 157.4,228.9 112.7,225.8 112.3,228.5 91.8,226.7 91.4,232.5 81.4,230.3 66.9,228.5 51.2,225.9 12.0,200.1 17.0,192.6 16.2,186.8 20.4,177.6 24.5,172.6 22.0,162.6 23.7,149.3 24.5,143.4 28.7,144.3 32.9,139.3 34.5,127.6 50.8,49.9 83.7,54.9" fill="none" stroke="#222" stroke-width="0.5"/>
<text x="235.7" y="33.5" class="tt" text-anchor="middle">Intermountain West</text><text x="236.5" y="44.0" class="tt" text-anchor="middle">Water Year 2018 Precipitation</text><text x="236.5" y="54.5" class="tt" text-anchor="middle">as a Percentage of Normal</text><text x="236.5" y="65.0" class="tt" text-anchor="middle">Oct 2017 - March 2018</text><text x="198.6" y="73.0" class="lt" style="font-size:5.6px">awy_mar18_pn</text><text x="198.6" y="80.9" class="lt">Precip as % of normal</text><rect x="198.6" y="84.1" width="12" height="5.5" fill="#c8553d" stroke="#555" stroke-width="0.3"/><text x="212.9" y="88.7" class="ll">0</text><rect x="198.6" y="92.1" width="12" height="5.5" fill="#dc6a30" stroke="#555" stroke-width="0.3"/><text x="212.9" y="96.7" class="ll">1 - 10</text><rect x="198.6" y="100.1" width="12" height="5.5" fill="#e68020" stroke="#555" stroke-width="0.3"/><text x="212.9" y="104.7" class="ll">11 - 20</text><rect x="198.6" y="108.1" width="12" height="5.5" fill="#ef9a10" stroke="#555" stroke-width="0.3"/><text x="212.9" y="112.7" class="ll">21 - 30</text><rect x="198.6" y="116.1" width="12" height="5.5" fill="#f5b80a" stroke="#555" stroke-width="0.3"/><text x="212.9" y="120.7" class="ll">31 - 50</text><rect x="198.6" y="124.1" width="12" height="5.5" fill="#ffe000" stroke="#555" stroke-width="0.3"/><text x="212.9" y="128.7" class="ll">51 - 70</text><rect x="198.6" y="132.1" width="12" height="5.5" fill="#eeff00" stroke="#555" stroke-width="0.3"/><text x="212.9" y="136.7" class="ll">71 - 90</text><rect x="198.6" y="140.1" width="12" height="5.5" fill="#88ee00" stroke="#555" stroke-width="0.3"/><text x="212.9" y="144.7" class="ll">91 - 110</text><rect x="198.6" y="148.1" width="12" height="5.5" fill="#22dd00" stroke="#555" stroke-width="0.3"/><text x="212.9" y="152.7" class="ll">111 - 130</text><rect x="198.6" y="156.1" width="12" height="5.5" fill="#11cc44" stroke="#555" stroke-width="0.3"/><text x="212.9" y="160.7" class="ll">131 - 150</text><rect x="198.6" y="164.1" width="12" height="5.5" fill="#22b070" stroke="#555" stroke-width="0.3"/><text x="212.9" y="168.7" class="ll">151 - 170</text><rect x="198.6" y="172.1" width="12" height="5.5" fill="#239b8c" stroke="#555" stroke-width="0.3"/><text x="212.9" y="176.7" class="ll">171 - 200</text><rect x="198.6" y="180.1" width="12" height="5.5" fill="#1f8094" stroke="#555" stroke-width="0.3"/><text x="212.9" y="184.7" class="ll">201 - 250</text><rect x="198.6" y="188.1" width="12" height="5.5" fill="#1a5a8c" stroke="#555" stroke-width="0.3"/><text x="212.9" y="192.7" class="ll">251 - 300</text><rect x="198.6" y="196.1" width="12" height="5.5" fill="#0c2a80" stroke="#555" stroke-width="0.3"/><text x="212.9" y="200.7" class="ll">300+</text><rect x="198.6" y="204.1" width="12" height="5.5" fill="#fff" stroke="#333" stroke-width="0.5"/><text x="212.9" y="208.7" class="ll">Upper Colorado River Basin</text><text x="198.6" y="217.6" class="ld">Data from PRISM Climate Group</text>
<rect x="0" y="0" width="314" height="242" fill="none" stroke="#000" stroke-width="1"/>
</svg>
<div class="cap">The images above use daily precipitation statistics from NWS COOP, CoCoRaHS, and CoAgMet<br>stations. From top to bottom, and left to right: most recent 7-days of accumulated precipitation in<br>inches; current month-to-date accumulated precipitation in inches; last month's precipitation as a<br>percent of average; water-year-to-date precipitation as a percent of average.</div>
</body></html>
